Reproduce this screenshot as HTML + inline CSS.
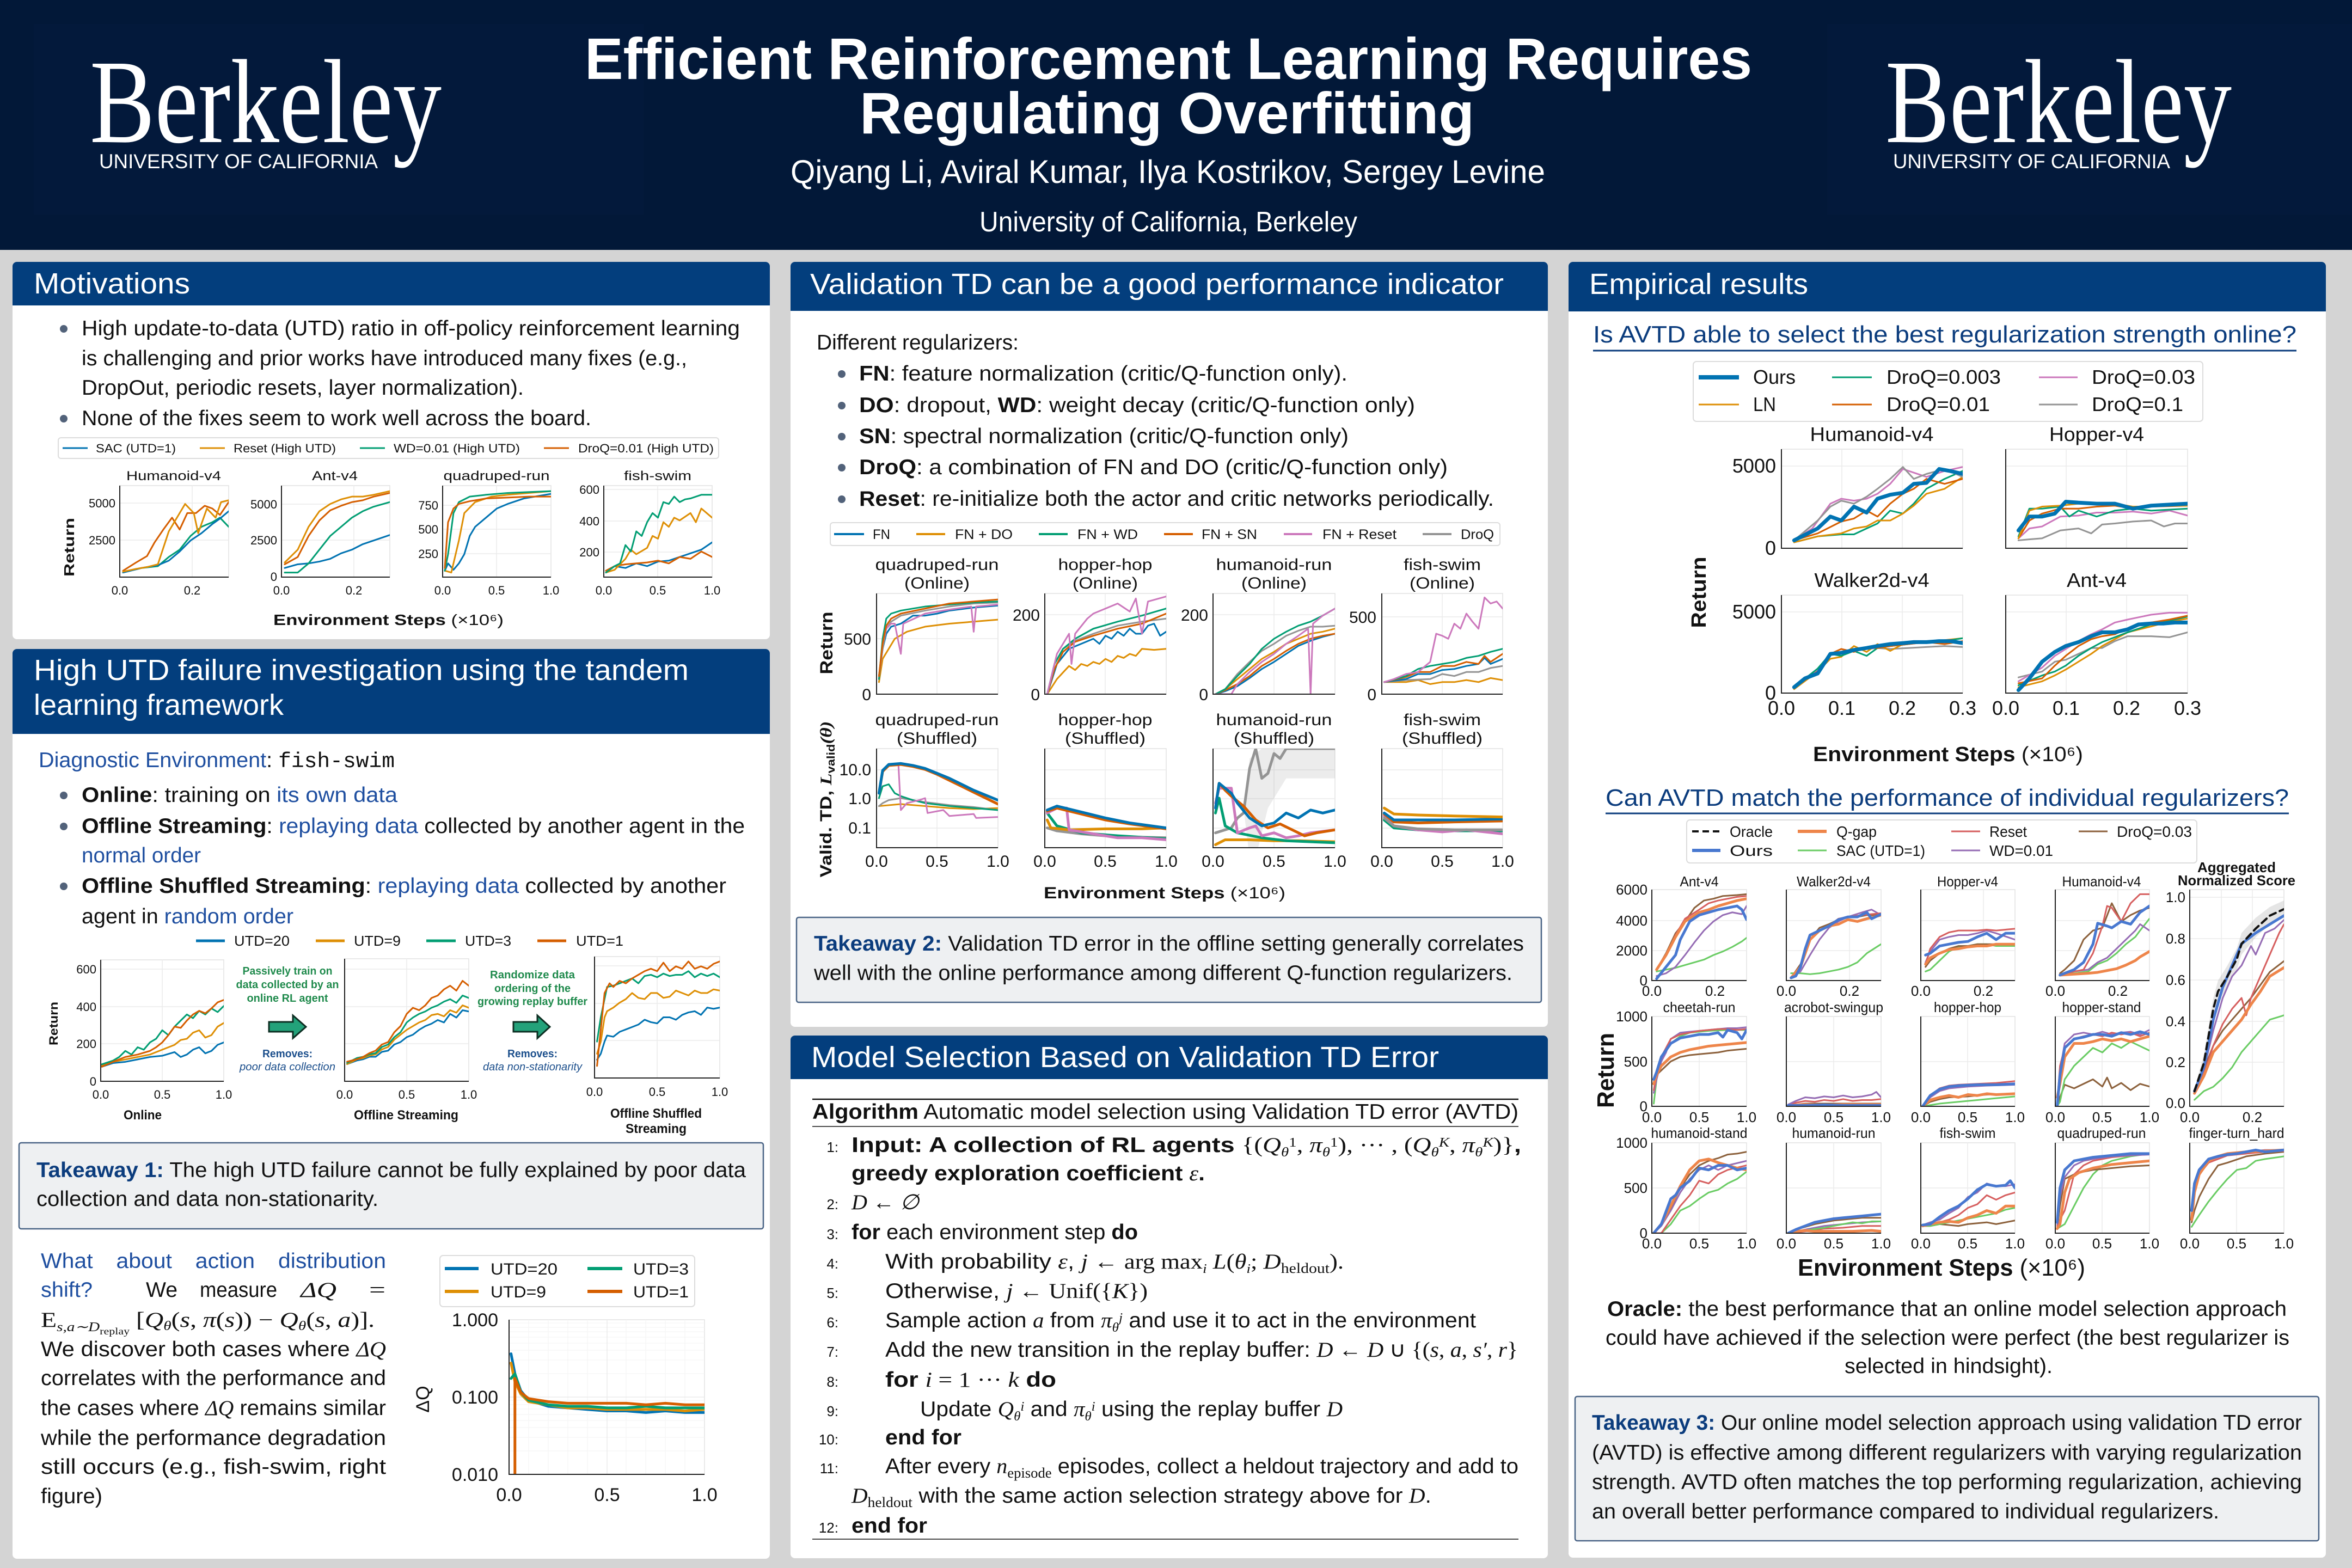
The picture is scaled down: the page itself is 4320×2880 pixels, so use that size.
<!DOCTYPE html>
<html><head><meta charset="utf-8">
<style>
html,body{margin:0;padding:0;background:#d4d4d4;}
svg{display:block}
text{font-family:"Liberation Sans",sans-serif;fill:#111;}
.sf{font-family:"Liberation Serif",serif;}
.mono{font-family:"Liberation Mono",monospace;}
.b{font-weight:bold}
.i{font-style:italic}
.bl{fill:#1f4fa0}
.db{fill:#0b3c7d}
.wh{fill:#fff}
polyline{fill:none;vector-effect:non-scaling-stroke;stroke-width:3;stroke-linejoin:round;stroke-linecap:round}
.fr{fill:#fff;stroke:#e2e2e2;stroke-width:1.5}
.gr{stroke:#ebebeb;stroke-width:1.5}
.gm{stroke:#f3f3f3;stroke-width:1}
.sp{fill:none;stroke:#222;stroke-width:2}
.tk22{font-size:22px}
.tk24{font-size:24px}
.tk26{font-size:26px}
.tk30{font-size:30px}
.tk34{font-size:34px}
.tk36{font-size:36px}
.c0{stroke:#0173b2}.c1{stroke:#de8f05}.c2{stroke:#029e73}.c3{stroke:#d55e00}.c4{stroke:#cc78bc}.c5{stroke:#ca9161}.c7{stroke:#949494}
.m0{stroke:#4878d0}.m1{stroke:#ee854a}.m2{stroke:#6acc64}.m3{stroke:#d65f5f}.m4{stroke:#956cb4}.m5{stroke:#8c613c}
.w5{stroke-width:5}.w6{stroke-width:6}.w7{stroke-width:7}
.leg{fill:#fff;stroke:#dcdcdc;stroke-width:2}
.tkb{fill:#fff;stroke:#4a6486;stroke-width:2.5}
.hd{fill:#033e7d}
.ht{fill:#fff;font-size:54px}
.bt{font-size:39px}
</style></head>
<body>
<svg width="4320" height="2880" viewBox="0 0 4320 2880" xmlns="http://www.w3.org/2000/svg">
<rect width="4320" height="2880" fill="#d4d4d4"/>
<!-- HEADER -->
<rect x="0" y="0" width="4320" height="459" fill="#021838"/>
<rect x="62" y="44" width="1120" height="350" fill="#03193b"/>
<rect x="3356" y="44" width="964" height="350" fill="#03193b"/>
<text class="sf wh" x="165" y="261" font-size="220" textLength="646" lengthAdjust="spacingAndGlyphs">Berkeley</text>
<text class="wh" x="182" y="309" font-size="37" textLength="512" lengthAdjust="spacingAndGlyphs">UNIVERSITY OF CALIFORNIA</text>
<text class="sf wh" x="3463" y="261" font-size="220" textLength="636" lengthAdjust="spacingAndGlyphs">Berkeley</text>
<text class="wh" x="3477" y="309" font-size="37" textLength="509" lengthAdjust="spacingAndGlyphs">UNIVERSITY OF CALIFORNIA</text>
<text class="wh b" x="1074" y="145" font-size="108" textLength="2144" lengthAdjust="spacingAndGlyphs">Efficient Reinforcement Learning Requires</text>
<text class="wh b" x="1579" y="245" font-size="108" textLength="1129" lengthAdjust="spacingAndGlyphs">Regulating Overfitting</text>
<text class="wh" x="1452" y="336" font-size="60" textLength="1386" lengthAdjust="spacingAndGlyphs">Qiyang Li, Aviral Kumar, Ilya Kostrikov, Sergey Levine</text>
<text class="wh" x="1799" y="425" font-size="52" textLength="694" lengthAdjust="spacingAndGlyphs">University of California, Berkeley</text>

<!-- ===== LEFT COLUMN ===== -->
<rect x="23" y="481" width="1391" height="693" rx="8" fill="#fff"/>
<rect x="23" y="481" width="1391" height="80" rx="8" class="hd"/>
<rect x="23" y="531" width="1391" height="30" class="hd"/>
<text class="ht" x="62" y="539" textLength="287" lengthAdjust="spacingAndGlyphs">Motivations</text>
<circle cx="117" cy="604" r="7" fill="#52627a"/>
<text class="bt" x="150" y="616" textLength="1209" lengthAdjust="spacingAndGlyphs">High update-to-data (UTD) ratio in off-policy reinforcement learning</text>
<text class="bt" x="150" y="671" textLength="1112" lengthAdjust="spacingAndGlyphs">is challenging and prior works have introduced many fixes (e.g.,</text>
<text class="bt" x="150" y="725" textLength="812" lengthAdjust="spacingAndGlyphs">DropOut, periodic resets, layer normalization).</text>
<circle cx="117" cy="769" r="7" fill="#52627a"/>
<text class="bt" x="150" y="781" textLength="936" lengthAdjust="spacingAndGlyphs">None of the fixes seem to work well across the board.</text>
<!-- legend -->
<rect x="107" y="804" width="1213" height="38" rx="5" class="leg"/>
<line x1="115" y1="823" x2="161" y2="823" stroke="#0173b2" stroke-width="3"/>
<text class="tk22" x="176" y="831" textLength="147" lengthAdjust="spacingAndGlyphs">SAC (UTD=1)</text>
<line x1="367" y1="823" x2="413" y2="823" stroke="#de8f05" stroke-width="3"/>
<text class="tk22" x="429" y="831" textLength="188" lengthAdjust="spacingAndGlyphs">Reset (High UTD)</text>
<line x1="661" y1="823" x2="707" y2="823" stroke="#029e73" stroke-width="3"/>
<text class="tk22" x="723" y="831" textLength="232" lengthAdjust="spacingAndGlyphs">WD=0.01 (High UTD)</text>
<line x1="999" y1="823" x2="1045" y2="823" stroke="#d55e00" stroke-width="3"/>
<text class="tk22" x="1062" y="831" textLength="249" lengthAdjust="spacingAndGlyphs">DroQ=0.01 (High UTD)</text>
<!-- motivation panels -->
<text class="tk24" x="319" y="882" text-anchor="middle" textLength="174" lengthAdjust="spacingAndGlyphs">Humanoid-v4</text>
<text class="tk24" x="615" y="882" text-anchor="middle" textLength="84" lengthAdjust="spacingAndGlyphs">Ant-v4</text>
<text class="tk24" x="912" y="882" text-anchor="middle" textLength="195" lengthAdjust="spacingAndGlyphs">quadruped-run</text>
<text class="tk24" x="1208" y="882" text-anchor="middle" textLength="124" lengthAdjust="spacingAndGlyphs">fish-swim</text>
<!-- P1 -->
<rect x="220" y="892" width="200" height="168" class="fr"/>
<line x1="220" y1="924" x2="420" y2="924" class="gr"/><line x1="220" y1="992" x2="420" y2="992" class="gr"/><line x1="353" y1="892" x2="353" y2="1060" class="gr"/>
<svg x="220" y="892" width="200" height="168" viewBox="0 0 100 100" preserveAspectRatio="none">
<polyline class="c2" points="3,95 20,90 35,88 45,78 55,70 65,55 75,45 85,40 92,35 100,45"/>
<polyline class="c0" points="3,95 20,90 35,87 45,82 55,72 65,60 75,52 85,42 92,36 100,28"/>
<polyline class="c3" points="3,93 15,84 25,77 32,62 40,48 48,35 55,48 62,30 70,30 78,22 85,25 92,32 100,18"/>
<polyline class="c1" points="3,94 15,91 25,89 35,86 45,50 55,30 60,20 68,30 72,52 80,25 88,35 93,18 100,16"/>
</svg>
<path d="M220,892 V1060 H420" class="sp"/>
<text class="tk22" x="212" y="932" text-anchor="end">5000</text><text class="tk22" x="212" y="1000" text-anchor="end">2500</text>
<text class="tk22" x="220" y="1092" text-anchor="middle">0.0</text><text class="tk22" x="353" y="1092" text-anchor="middle">0.2</text>
<!-- P2 -->
<rect x="517" y="892" width="199" height="168" class="fr"/>
<line x1="517" y1="926" x2="716" y2="926" class="gr"/><line x1="517" y1="992" x2="716" y2="992" class="gr"/><line x1="650" y1="892" x2="650" y2="1060" class="gr"/>
<svg x="517" y="892" width="199" height="168" viewBox="0 0 100 100" preserveAspectRatio="none">
<polyline class="c0" points="3,90 15,86 25,85 35,83 45,80 55,74 65,70 75,64 85,60 100,54"/>
<polyline class="c2" points="3,95 15,95 25,85 35,70 45,55 55,45 65,35 75,28 85,23 100,18"/>
<polyline class="c3" points="3,86 15,78 25,55 35,38 45,27 55,22 65,18 75,16 85,12 100,8"/>
<polyline class="c1" points="3,84 15,70 25,45 35,28 45,20 55,15 65,12 75,12 85,10 100,6"/>
</svg>
<path d="M517,892 V1060 H716" class="sp"/>
<text class="tk22" x="509" y="934" text-anchor="end">5000</text><text class="tk22" x="509" y="1000" text-anchor="end">2500</text><text class="tk22" x="509" y="1067" text-anchor="end">0</text>
<text class="tk22" x="517" y="1092" text-anchor="middle">0.0</text><text class="tk22" x="650" y="1092" text-anchor="middle">0.2</text>
<!-- P3 -->
<rect x="813" y="892" width="199" height="168" class="fr"/>
<line x1="813" y1="928" x2="1012" y2="928" class="gr"/><line x1="813" y1="972" x2="1012" y2="972" class="gr"/><line x1="813" y1="1017" x2="1012" y2="1017" class="gr"/><line x1="912" y1="892" x2="912" y2="1060" class="gr"/>
<svg x="813" y="892" width="199" height="168" viewBox="0 0 100 100" preserveAspectRatio="none">
<polyline class="c0" points="2,93 5,85 10,92 15,85 20,75 25,55 30,45 40,35 50,25 60,20 75,14 100,9"/>
<polyline class="c1" points="2,93 8,95 15,60 20,30 30,18 45,12 60,10 80,8 100,6"/>
<polyline class="c2" points="2,93 5,75 10,30 15,18 25,12 40,10 60,8 80,7 100,6"/>
<polyline class="c3" points="2,90 5,40 10,25 15,20 25,17 40,14 60,13 80,12 100,12"/>
</svg>
<path d="M813,892 V1060 H1012" class="sp"/>
<text class="tk22" x="805" y="936" text-anchor="end">750</text><text class="tk22" x="805" y="980" text-anchor="end">500</text><text class="tk22" x="805" y="1025" text-anchor="end">250</text>
<text class="tk22" x="813" y="1092" text-anchor="middle">0.0</text><text class="tk22" x="912" y="1092" text-anchor="middle">0.5</text><text class="tk22" x="1012" y="1092" text-anchor="middle">1.0</text>
<!-- P4 -->
<rect x="1109" y="892" width="199" height="168" class="fr"/>
<line x1="1109" y1="899" x2="1308" y2="899" class="gr"/><line x1="1109" y1="957" x2="1308" y2="957" class="gr"/><line x1="1109" y1="1014" x2="1308" y2="1014" class="gr"/><line x1="1208" y1="892" x2="1208" y2="1060" class="gr"/>
<svg x="1109" y="892" width="199" height="168" viewBox="0 0 100 100" preserveAspectRatio="none">
<polyline class="c0" points="2,95 10,88 20,90 30,85 40,88 50,83 60,82 70,78 80,74 90,70 100,62"/>
<polyline class="c3" points="2,93 10,88 20,86 30,85 40,84 50,82 60,85 70,78 80,80 90,72 100,78"/>
<polyline class="c1" points="2,95 10,92 20,80 25,70 30,75 40,68 45,55 50,58 55,40 60,45 65,35 70,38 80,30 85,40 90,25 100,35"/>
<polyline class="c2" points="2,95 10,88 15,85 20,65 25,72 30,50 35,55 40,40 45,30 50,35 55,18 60,20 65,12 70,18 75,15 80,14 90,10 100,10"/>
</svg>
<path d="M1109,892 V1060 H1308" class="sp"/>
<text class="tk22" x="1101" y="907" text-anchor="end">600</text><text class="tk22" x="1101" y="965" text-anchor="end">400</text><text class="tk22" x="1101" y="1022" text-anchor="end">200</text>
<text class="tk22" x="1109" y="1092" text-anchor="middle">0.0</text><text class="tk22" x="1208" y="1092" text-anchor="middle">0.5</text><text class="tk22" x="1308" y="1092" text-anchor="middle">1.0</text>
<text class="b" font-size="26" transform="translate(136,1005) rotate(-90)" text-anchor="middle" textLength="108" lengthAdjust="spacingAndGlyphs">Return</text>
<text font-size="28" x="502" y="1148" textLength="423" lengthAdjust="spacingAndGlyphs"><tspan class="b">Environment Steps</tspan> (×10⁶)</text>

<!-- L2 section -->
<rect x="23" y="1192" width="1391" height="1671" rx="8" fill="#fff"/>
<rect x="23" y="1192" width="1391" height="156" rx="8" class="hd"/>
<rect x="23" y="1300" width="1391" height="48" class="hd"/>
<text class="ht" x="62" y="1249" textLength="1203" lengthAdjust="spacingAndGlyphs">High UTD failure investigation using the tandem</text>
<text class="ht" x="62" y="1313" textLength="459" lengthAdjust="spacingAndGlyphs">learning framework</text>
<text class="bt" x="71" y="1409" textLength="654" lengthAdjust="spacingAndGlyphs"><tspan class="bl">Diagnostic Environment</tspan>: <tspan class="mono">fish-swim</tspan></text>
<circle cx="117" cy="1461" r="7" fill="#52627a"/>
<text class="bt" x="150" y="1473" textLength="580" lengthAdjust="spacingAndGlyphs"><tspan class="b">Online</tspan>: training on <tspan class="bl">its own data</tspan></text>
<circle cx="117" cy="1518" r="7" fill="#52627a"/>
<text class="bt" x="150" y="1530" textLength="1218" lengthAdjust="spacingAndGlyphs"><tspan class="b">Offline Streaming</tspan>: <tspan class="bl">replaying data</tspan> collected by another agent in the</text>
<text class="bt bl" x="150" y="1584" textLength="219" lengthAdjust="spacingAndGlyphs">normal order</text>
<circle cx="117" cy="1628" r="7" fill="#52627a"/>
<text class="bt" x="150" y="1640" textLength="1184" lengthAdjust="spacingAndGlyphs"><tspan class="b">Offline Shuffled Streaming</tspan>: <tspan class="bl">replaying data</tspan> collected by another</text>
<text class="bt" x="150" y="1696" textLength="389" lengthAdjust="spacingAndGlyphs">agent in <tspan class="bl">random order</tspan></text>
<!-- UTD legend -->
<line x1="360" y1="1728" x2="413" y2="1728" stroke="#0173b2" stroke-width="5"/>
<text font-size="26" x="430" y="1737" textLength="102" lengthAdjust="spacingAndGlyphs">UTD=20</text>
<line x1="580" y1="1728" x2="633" y2="1728" stroke="#de8f05" stroke-width="5"/>
<text font-size="26" x="650" y="1737" textLength="86" lengthAdjust="spacingAndGlyphs">UTD=9</text>
<line x1="783" y1="1728" x2="837" y2="1728" stroke="#029e73" stroke-width="5"/>
<text font-size="26" x="854" y="1737" textLength="85" lengthAdjust="spacingAndGlyphs">UTD=3</text>
<line x1="987" y1="1728" x2="1040" y2="1728" stroke="#d55e00" stroke-width="5"/>
<text font-size="26" x="1058" y="1737" textLength="87" lengthAdjust="spacingAndGlyphs">UTD=1</text>
<!-- Online plot -->
<rect x="185" y="1763" width="226" height="223" class="fr"/>
<line x1="185" y1="1780" x2="411" y2="1780" class="gr"/><line x1="185" y1="1849" x2="411" y2="1849" class="gr"/><line x1="185" y1="1917" x2="411" y2="1917" class="gr"/><line x1="298" y1="1763" x2="298" y2="1986" class="gr"/>
<svg x="185" y="1763" width="226" height="223" viewBox="0 0 100 100" preserveAspectRatio="none">
<polyline class="c0" points="1,88 10,85 20,84 30,82 40,80 50,79 60,76 65,80 70,78 75,74 80,72 85,77 90,75 95,70 100,68"/>
<polyline class="c1" points="1,87 10,84 20,82 30,80 40,78 50,74 60,70 65,66 70,65 75,60 80,58 85,64 90,62 95,55 100,52"/>
<polyline class="c2" points="1,86 10,83 15,80 20,75 25,78 30,72 35,74 40,68 45,65 50,58 55,62 60,55 65,50 70,45 75,48 80,42 85,45 90,40 95,43 100,38"/>
<polyline class="c3" points="1,88 10,84 20,80 30,78 40,75 45,72 50,68 55,62 60,55 65,56 70,50 75,45 80,42 85,44 90,40 95,35 100,33"/>
</svg>
<path d="M185,1763 V1986 H411" class="sp"/>
<text class="tk22" x="177" y="1788" text-anchor="end">600</text><text class="tk22" x="177" y="1857" text-anchor="end">400</text><text class="tk22" x="177" y="1925" text-anchor="end">200</text><text class="tk22" x="177" y="1994" text-anchor="end">0</text>
<text class="tk22" x="185" y="2018" text-anchor="middle">0.0</text><text class="tk22" x="298" y="2018" text-anchor="middle">0.5</text><text class="tk22" x="411" y="2018" text-anchor="middle">1.0</text>
<text class="b" font-size="22" transform="translate(106,1880) rotate(-90)" text-anchor="middle" textLength="80" lengthAdjust="spacingAndGlyphs">Return</text>
<text class="b" font-size="24" x="262" y="2056" text-anchor="middle" textLength="70" lengthAdjust="spacingAndGlyphs">Online</text>
<!-- annotation 1 -->
<text class="b" font-size="20" x="528" y="1790" text-anchor="middle" style="fill:#1f8a4c" textLength="165" lengthAdjust="spacingAndGlyphs">Passively train on</text>
<text class="b" font-size="20" x="528" y="1815" text-anchor="middle" style="fill:#1f8a4c" textLength="189" lengthAdjust="spacingAndGlyphs">data collected by an</text>
<text class="b" font-size="20" x="528" y="1840" text-anchor="middle" style="fill:#1f8a4c" textLength="149" lengthAdjust="spacingAndGlyphs">online RL agent</text>
<polygon points="494,1877 538,1877 538,1865 562,1886 538,1907 538,1895 494,1895" fill="#23a27a" stroke="#0d2e22" stroke-width="3"/>
<text class="b" font-size="20" x="528" y="1942" text-anchor="middle" style="fill:#1c4f8c" textLength="92" lengthAdjust="spacingAndGlyphs">Removes:</text>
<text class="i" font-size="20" x="528" y="1966" text-anchor="middle" style="fill:#1c4f8c" textLength="176" lengthAdjust="spacingAndGlyphs">poor data collection</text>
<!-- Offline streaming plot -->
<rect x="633" y="1761" width="228" height="225" class="fr"/>
<line x1="633" y1="1780" x2="861" y2="1780" class="gr"/><line x1="633" y1="1849" x2="861" y2="1849" class="gr"/><line x1="633" y1="1917" x2="861" y2="1917" class="gr"/><line x1="747" y1="1761" x2="747" y2="1986" class="gr"/>
<svg x="633" y="1761" width="228" height="225" viewBox="0 0 100 100" preserveAspectRatio="none">
<polyline class="c0" points="2,86 10,83 15,82 20,80 25,80 30,76 35,75 40,70 45,68 50,64 55,62 60,58 65,55 70,53 75,50 80,52 85,45 90,48 95,42 100,43"/>
<polyline class="c1" points="2,86 10,82 15,81 20,79 25,78 30,74 35,72 40,66 45,62 50,58 55,55 60,52 65,50 70,46 75,45 80,47 85,42 90,44 95,38 100,40"/>
<polyline class="c2" points="2,85 10,81 15,80 20,78 25,77 30,72 35,70 40,64 45,60 50,52 55,48 60,45 65,43 70,40 75,38 80,35 85,33 90,36 95,30 100,32"/>
<polyline class="c3" points="2,84 10,82 15,80 20,77 25,75 30,70 35,68 40,60 45,55 50,45 55,40 60,42 65,38 70,32 75,30 80,25 85,22 90,26 95,18 100,22"/>
</svg>
<path d="M633,1761 V1986 H861" class="sp"/>
<text class="tk22" x="633" y="2018" text-anchor="middle">0.0</text><text class="tk22" x="747" y="2018" text-anchor="middle">0.5</text><text class="tk22" x="861" y="2018" text-anchor="middle">1.0</text>
<text class="b" font-size="24" x="746" y="2056" text-anchor="middle" textLength="192" lengthAdjust="spacingAndGlyphs">Offline Streaming</text>
<!-- annotation 2 -->
<text class="b" font-size="20" x="978" y="1797" text-anchor="middle" style="fill:#1f8a4c" textLength="156" lengthAdjust="spacingAndGlyphs">Randomize data</text>
<text class="b" font-size="20" x="978" y="1822" text-anchor="middle" style="fill:#1f8a4c" textLength="140" lengthAdjust="spacingAndGlyphs">ordering of the</text>
<text class="b" font-size="20" x="978" y="1846" text-anchor="middle" style="fill:#1f8a4c" textLength="202" lengthAdjust="spacingAndGlyphs">growing replay buffer</text>
<polygon points="943,1877 987,1877 987,1865 1010,1886 987,1907 987,1895 943,1895" fill="#23a27a" stroke="#0d2e22" stroke-width="3"/>
<text class="b" font-size="20" x="978" y="1942" text-anchor="middle" style="fill:#1c4f8c" textLength="92" lengthAdjust="spacingAndGlyphs">Removes:</text>
<text class="i" font-size="20" x="978" y="1966" text-anchor="middle" style="fill:#1c4f8c" textLength="182" lengthAdjust="spacingAndGlyphs">data non-stationarity</text>
<!-- Offline shuffled plot -->
<rect x="1092" y="1757" width="230" height="223" class="fr"/>
<line x1="1092" y1="1774" x2="1322" y2="1774" class="gr"/><line x1="1092" y1="1843" x2="1322" y2="1843" class="gr"/><line x1="1092" y1="1911" x2="1322" y2="1911" class="gr"/><line x1="1207" y1="1757" x2="1207" y2="1980" class="gr"/>
<svg x="1092" y="1757" width="230" height="223" viewBox="0 0 100 100" preserveAspectRatio="none">
<polyline class="c0" points="2,85 5,80 8,70 10,65 15,66 20,62 25,60 30,58 35,56 40,52 45,54 50,55 55,50 60,50 65,52 70,48 75,46 80,45 85,48 90,42 95,43 100,42"/>
<polyline class="c1" points="2,80 5,70 8,50 10,45 15,42 20,38 25,35 30,30 35,34 40,35 45,30 50,30 55,34 60,33 65,28 70,30 75,32 80,28 85,30 90,30 95,27 100,28"/>
<polyline class="c2" points="2,70 5,50 10,25 15,24 20,22 25,20 30,18 35,22 40,16 45,15 50,17 55,14 60,16 65,15 70,15 75,12 80,17 85,14 90,16 95,14 100,17"/>
<polyline class="c3" points="2,90 5,60 8,30 12,22 15,25 20,20 25,22 30,18 35,15 40,12 45,10 50,12 55,5 60,12 65,8 70,10 75,4 80,10 85,8 90,10 95,6 100,4"/>
</svg>
<path d="M1092,1757 V1980 H1322" class="sp"/>
<text class="tk22" x="1092" y="2013" text-anchor="middle">0.0</text><text class="tk22" x="1207" y="2013" text-anchor="middle">0.5</text><text class="tk22" x="1322" y="2013" text-anchor="middle">1.0</text>
<text class="b" font-size="24" x="1205" y="2053" text-anchor="middle" textLength="168" lengthAdjust="spacingAndGlyphs">Offline Shuffled</text>
<text class="b" font-size="24" x="1205" y="2081" text-anchor="middle" textLength="112" lengthAdjust="spacingAndGlyphs">Streaming</text>
<!-- Takeaway 1 -->
<rect x="35" y="2099" width="1367" height="158" rx="4" fill="#eef0f2" stroke="#4a6486" stroke-width="2.5"/>
<text class="bt" x="67" y="2162" textLength="1303" lengthAdjust="spacingAndGlyphs"><tspan class="b db">Takeaway 1:</tspan> The high UTD failure cannot be fully explained by poor data</text>
<text class="bt" x="67" y="2215" textLength="628" lengthAdjust="spacingAndGlyphs">collection and data non-stationarity.</text>
<!-- bottom-left paragraph -->
<text class="bt bl" x="75" y="2329" textLength="634" lengthAdjust="spacingAndGlyphs" word-spacing="30">What about action distribution</text>
<text class="bt bl" x="75" y="2382" textLength="95" lengthAdjust="spacingAndGlyphs">shift?</text>
<text class="bt" x="268" y="2382" textLength="58" lengthAdjust="spacingAndGlyphs">We</text>
<text class="bt" x="367" y="2382" textLength="142" lengthAdjust="spacingAndGlyphs">measure</text>
<text class="bt sf i" x="552" y="2382" textLength="66" lengthAdjust="spacingAndGlyphs">ΔQ</text>
<text class="bt sf" x="678" y="2382" textLength="30" lengthAdjust="spacingAndGlyphs">=</text>
<text class="bt sf" x="75" y="2437" textLength="613" lengthAdjust="spacingAndGlyphs">E<tspan font-size="24" class="i" dy="8">s,a∼D</tspan><tspan font-size="18" dy="6">replay</tspan><tspan dy="-14"> [</tspan><tspan class="i">Q</tspan><tspan font-size="24" class="i" dy="6">θ</tspan><tspan dy="-6">(</tspan><tspan class="i">s</tspan>, <tspan class="i">π</tspan>(<tspan class="i">s</tspan>)) − <tspan class="i">Q</tspan><tspan font-size="24" class="i" dy="6">θ</tspan><tspan dy="-6">(</tspan><tspan class="i">s</tspan>, <tspan class="i">a</tspan>)].</text>
<text class="bt" x="75" y="2491" textLength="634" lengthAdjust="spacingAndGlyphs">We discover both cases where <tspan class="sf i">ΔQ</tspan></text>
<text class="bt" x="75" y="2544" textLength="634" lengthAdjust="spacingAndGlyphs">correlates with the performance and</text>
<text class="bt" x="75" y="2599" textLength="634" lengthAdjust="spacingAndGlyphs">the cases where <tspan class="sf i">ΔQ</tspan> remains similar</text>
<text class="bt" x="75" y="2654" textLength="634" lengthAdjust="spacingAndGlyphs">while the performance degradation</text>
<text class="bt" x="75" y="2707" textLength="634" lengthAdjust="spacingAndGlyphs">still occurs (e.g., fish-swim, right</text>
<text class="bt" x="75" y="2761" textLength="113" lengthAdjust="spacingAndGlyphs">figure)</text>
<!-- ΔQ plot -->
<rect x="808" y="2306" width="468" height="94" rx="6" class="leg"/>
<line x1="817" y1="2330" x2="879" y2="2330" stroke="#0173b2" stroke-width="6"/>
<text font-size="30" x="901" y="2341" textLength="123" lengthAdjust="spacingAndGlyphs">UTD=20</text>
<line x1="1079" y1="2330" x2="1143" y2="2330" stroke="#029e73" stroke-width="6"/>
<text font-size="30" x="1163" y="2341" textLength="102" lengthAdjust="spacingAndGlyphs">UTD=3</text>
<line x1="817" y1="2372" x2="879" y2="2372" stroke="#de8f05" stroke-width="6"/>
<text font-size="30" x="901" y="2383" textLength="102" lengthAdjust="spacingAndGlyphs">UTD=9</text>
<line x1="1079" y1="2372" x2="1143" y2="2372" stroke="#d55e00" stroke-width="6"/>
<text font-size="30" x="1163" y="2383" textLength="102" lengthAdjust="spacingAndGlyphs">UTD=1</text>
<rect x="935" y="2424" width="359" height="284" class="fr"/>
<g class="gm">
<line x1="935" y1="2430" x2="1294" y2="2430"/><line x1="935" y1="2438" x2="1294" y2="2438"/><line x1="935" y1="2446" x2="1294" y2="2446"/><line x1="935" y1="2456" x2="1294" y2="2456"/><line x1="935" y1="2467" x2="1294" y2="2467"/><line x1="935" y1="2480" x2="1294" y2="2480"/><line x1="935" y1="2498" x2="1294" y2="2498"/><line x1="935" y1="2523" x2="1294" y2="2523"/>
<line x1="935" y1="2572" x2="1294" y2="2572"/><line x1="935" y1="2580" x2="1294" y2="2580"/><line x1="935" y1="2588" x2="1294" y2="2588"/><line x1="935" y1="2598" x2="1294" y2="2598"/><line x1="935" y1="2609" x2="1294" y2="2609"/><line x1="935" y1="2622" x2="1294" y2="2622"/><line x1="935" y1="2640" x2="1294" y2="2640"/><line x1="935" y1="2665" x2="1294" y2="2665"/>
<line x1="971" y1="2424" x2="971" y2="2708"/><line x1="1007" y1="2424" x2="1007" y2="2708"/><line x1="1043" y1="2424" x2="1043" y2="2708"/><line x1="1079" y1="2424" x2="1079" y2="2708"/><line x1="1150" y1="2424" x2="1150" y2="2708"/><line x1="1186" y1="2424" x2="1186" y2="2708"/><line x1="1222" y1="2424" x2="1222" y2="2708"/><line x1="1258" y1="2424" x2="1258" y2="2708"/>
</g>
<line x1="935" y1="2566" x2="1294" y2="2566" class="gr"/><line x1="1115" y1="2424" x2="1115" y2="2708" class="gr"/>
<svg x="935" y="2424" width="359" height="284" viewBox="0 0 100 100" preserveAspectRatio="none">
<polyline class="c0 w5" points="1,22 3,35 6,46 10,52 15,54 20,56 30,57 40,58 50,59 60,59 70,60 80,59 90,60 100,60"/>
<polyline class="c1 w5" points="1,28 3,40 6,48 10,53 20,55 30,57 40,57 50,58 60,58 70,58 80,58 90,59 100,58"/>
<polyline class="c2 w5" points="1,38 3,35 6,47 10,52 20,55 30,56 40,56 50,57 60,57 70,56 80,57 90,57 100,57"/>
<polyline class="c3 w5" points="3,100 3,38 6,47 10,51 20,53 30,54 40,54 50,54 60,54 70,55 80,54 90,55 100,55"/>
</svg>
<path d="M935,2424 V2708 H1294" class="sp"/>
<text class="tk34" x="915" y="2436" text-anchor="end">1.000</text><text class="tk34" x="915" y="2578" text-anchor="end">0.100</text><text class="tk34" x="915" y="2720" text-anchor="end">0.010</text>
<text class="tk34" x="935" y="2757" text-anchor="middle">0.0</text><text class="tk34" x="1115" y="2757" text-anchor="middle">0.5</text><text class="tk34" x="1294" y="2757" text-anchor="middle">1.0</text>
<text class="tk34" transform="translate(788,2570) rotate(-90)" text-anchor="middle">ΔQ</text>

<!-- ===== MIDDLE COLUMN ===== -->
<rect x="1452" y="481" width="1391" height="1405" rx="8" fill="#fff"/>
<rect x="1452" y="481" width="1391" height="90" rx="8" class="hd"/>
<rect x="1452" y="531" width="1391" height="40" class="hd"/>
<text class="ht" x="1488" y="540" textLength="1274" lengthAdjust="spacingAndGlyphs">Validation TD can be a good performance indicator</text>
<text class="bt" x="1500" y="642" textLength="371" lengthAdjust="spacingAndGlyphs">Different regularizers:</text>
<circle cx="1546" cy="687" r="7" fill="#52627a"/>
<text class="bt" x="1578" y="699" textLength="897" lengthAdjust="spacingAndGlyphs"><tspan class="b">FN</tspan>: feature normalization (critic/Q-function only).</text>
<circle cx="1546" cy="745" r="7" fill="#52627a"/>
<text class="bt" x="1578" y="757" textLength="1021" lengthAdjust="spacingAndGlyphs"><tspan class="b">DO</tspan>: dropout, <tspan class="b">WD</tspan>: weight decay (critic/Q-function only)</text>
<circle cx="1546" cy="802" r="7" fill="#52627a"/>
<text class="bt" x="1578" y="814" textLength="899" lengthAdjust="spacingAndGlyphs"><tspan class="b">SN</tspan>: spectral normalization (critic/Q-function only)</text>
<circle cx="1546" cy="859" r="7" fill="#52627a"/>
<text class="bt" x="1578" y="871" textLength="1081" lengthAdjust="spacingAndGlyphs"><tspan class="b">DroQ</tspan>: a combination of FN and DO (critic/Q-function only)</text>
<circle cx="1546" cy="917" r="7" fill="#52627a"/>
<text class="bt" x="1578" y="929" textLength="1166" lengthAdjust="spacingAndGlyphs"><tspan class="b">Reset</tspan>:  re-initialize both the actor and critic networks periodically.</text>
<!-- legend -->
<rect x="1525" y="960" width="1230" height="42" rx="5" class="leg"/>
<line x1="1532" y1="981" x2="1587" y2="981" stroke="#0173b2" stroke-width="4"/>
<text font-size="25" x="1603" y="990" textLength="32" lengthAdjust="spacingAndGlyphs">FN</text>
<line x1="1683" y1="981" x2="1736" y2="981" stroke="#de8f05" stroke-width="4"/>
<text font-size="25" x="1754" y="990" textLength="106" lengthAdjust="spacingAndGlyphs">FN + DO</text>
<line x1="1908" y1="981" x2="1961" y2="981" stroke="#029e73" stroke-width="4"/>
<text font-size="25" x="1979" y="990" textLength="111" lengthAdjust="spacingAndGlyphs">FN + WD</text>
<line x1="2138" y1="981" x2="2191" y2="981" stroke="#d55e00" stroke-width="4"/>
<text font-size="25" x="2207" y="990" textLength="102" lengthAdjust="spacingAndGlyphs">FN + SN</text>
<line x1="2358" y1="981" x2="2410" y2="981" stroke="#cc78bc" stroke-width="4"/>
<text font-size="25" x="2429" y="990" textLength="136" lengthAdjust="spacingAndGlyphs">FN + Reset</text>
<line x1="2613" y1="981" x2="2666" y2="981" stroke="#949494" stroke-width="4"/>
<text font-size="25" x="2683" y="990" textLength="61" lengthAdjust="spacingAndGlyphs">DroQ</text>
<!-- titles row 1 -->
<g class="tk30">
<text x="1721" y="1047" text-anchor="middle" textLength="227" lengthAdjust="spacingAndGlyphs">quadruped-run</text>
<text x="1721" y="1081" text-anchor="middle" textLength="120" lengthAdjust="spacingAndGlyphs">(Online)</text>
<text x="2030" y="1047" text-anchor="middle" textLength="173" lengthAdjust="spacingAndGlyphs">hopper-hop</text>
<text x="2030" y="1081" text-anchor="middle" textLength="120" lengthAdjust="spacingAndGlyphs">(Online)</text>
<text x="2340" y="1047" text-anchor="middle" textLength="213" lengthAdjust="spacingAndGlyphs">humanoid-run</text>
<text x="2340" y="1081" text-anchor="middle" textLength="120" lengthAdjust="spacingAndGlyphs">(Online)</text>
<text x="2649" y="1047" text-anchor="middle" textLength="142" lengthAdjust="spacingAndGlyphs">fish-swim</text>
<text x="2649" y="1081" text-anchor="middle" textLength="120" lengthAdjust="spacingAndGlyphs">(Online)</text>
<text x="1721" y="1332" text-anchor="middle" textLength="227" lengthAdjust="spacingAndGlyphs">quadruped-run</text>
<text x="1721" y="1366" text-anchor="middle" textLength="148" lengthAdjust="spacingAndGlyphs">(Shuffled)</text>
<text x="2030" y="1332" text-anchor="middle" textLength="173" lengthAdjust="spacingAndGlyphs">hopper-hop</text>
<text x="2030" y="1366" text-anchor="middle" textLength="148" lengthAdjust="spacingAndGlyphs">(Shuffled)</text>
<text x="2340" y="1332" text-anchor="middle" textLength="213" lengthAdjust="spacingAndGlyphs">humanoid-run</text>
<text x="2340" y="1366" text-anchor="middle" textLength="148" lengthAdjust="spacingAndGlyphs">(Shuffled)</text>
<text x="2649" y="1332" text-anchor="middle" textLength="142" lengthAdjust="spacingAndGlyphs">fish-swim</text>
<text x="2649" y="1366" text-anchor="middle" textLength="148" lengthAdjust="spacingAndGlyphs">(Shuffled)</text>
</g>
<!-- M P1 online -->
<rect x="1610" y="1090" width="223" height="185" class="fr"/>
<line x1="1610" y1="1173" x2="1833" y2="1173" class="gr"/><line x1="1721" y1="1090" x2="1721" y2="1275" class="gr"/>
<svg x="1610" y="1090" width="223" height="185" viewBox="0 0 100 100" preserveAspectRatio="none">
<polyline class="c1" points="2,88 5,65 10,55 15,45 25,38 40,33 60,30 80,28 100,26"/>
<polyline class="c0" points="2,82 5,55 8,40 12,33 20,30 30,22 40,22 50,20 60,17 80,14 100,12"/>
<polyline class="c7" points="2,82 5,55 8,35 12,28 20,22 40,17 60,13 80,10 100,9"/>
<polyline class="c4" points="2,85 5,50 8,35 12,30 15,30 20,60 22,30 40,20 60,16 78,13 80,38 82,13 100,11"/>
<polyline class="c2" points="2,85 5,45 8,25 12,20 20,17 40,13 60,11 80,9 100,8"/>
<polyline class="c3" points="2,82 5,50 8,32 12,25 20,20 40,15 60,10 80,8 100,6"/>
</svg>
<path d="M1610,1090 V1275 H1833" class="sp"/>
<text class="tk30" x="1600" y="1184" text-anchor="end">500</text><text class="tk30" x="1600" y="1286" text-anchor="end">0</text>
<!-- M P2 online -->
<rect x="1919" y="1090" width="223" height="185" class="fr"/>
<line x1="1919" y1="1129" x2="2142" y2="1129" class="gr"/><line x1="2030" y1="1090" x2="2030" y2="1275" class="gr"/>
<svg x="1919" y="1090" width="223" height="185" viewBox="0 0 100 100" preserveAspectRatio="none">
<polyline class="c1" points="2,100 10,85 20,72 25,76 30,70 35,72 40,68 45,70 50,65 55,68 60,62 65,64 70,60 75,62 80,55 90,56 100,55"/>
<polyline class="c0" points="2,100 10,70 20,55 30,50 40,45 45,50 50,42 55,45 60,38 65,42 70,35 75,40 80,40 85,32 90,30 95,42 100,38"/>
<polyline class="c7" points="2,100 8,70 15,55 25,47 40,40 60,32 80,28 100,25"/>
<polyline class="c3" points="2,100 8,75 15,58 25,48 40,42 60,35 80,30 100,20"/>
<polyline class="c2" points="2,100 8,70 15,55 25,45 40,35 60,28 80,22 100,15"/>
<polyline class="c4" points="2,100 10,60 20,40 22,70 25,40 35,25 40,20 50,15 60,10 70,18 75,5 80,40 85,8 100,3"/>
</svg>
<path d="M1919,1090 V1275 H2142" class="sp"/>
<text class="tk30" x="1910" y="1140" text-anchor="end">200</text><text class="tk30" x="1910" y="1286" text-anchor="end">0</text>
<!-- M P3 online -->
<rect x="2228" y="1090" width="224" height="185" class="fr"/>
<line x1="2228" y1="1129" x2="2452" y2="1129" class="gr"/><line x1="2340" y1="1090" x2="2340" y2="1275" class="gr"/>
<svg x="2228" y="1090" width="224" height="185" viewBox="0 0 100 100" preserveAspectRatio="none">
<polyline class="c0" points="2,100 10,97 20,92 30,84 40,75 50,68 60,60 70,52 80,47 90,43 100,40"/>
<polyline class="c3" points="2,100 10,96 20,90 30,82 40,72 50,65 60,57 70,50 80,45 90,42 100,40"/>
<polyline class="c1" points="2,100 10,95 20,85 30,75 40,65 50,58 60,50 70,45 80,40 90,38 100,35"/>
<polyline class="c7" points="2,100 10,95 20,80 30,68 40,57 50,50 60,42 70,37 80,33 90,33 100,32"/>
<polyline class="c2" points="2,100 10,95 20,82 30,70 40,55 50,45 60,38 70,32 80,28 90,22 100,15"/>
<polyline class="c4" points="2,100 15,100 20,90 30,78 40,68 50,60 60,50 70,42 78,35 80,100 82,30 90,22 100,15"/>
</svg>
<path d="M2228,1090 V1275 H2452" class="sp"/>
<text class="tk30" x="2219" y="1140" text-anchor="end">200</text><text class="tk30" x="2219" y="1286" text-anchor="end">0</text>
<!-- M P4 online -->
<rect x="2538" y="1090" width="222" height="185" class="fr"/>
<line x1="2538" y1="1133" x2="2760" y2="1133" class="gr"/><line x1="2649" y1="1090" x2="2649" y2="1275" class="gr"/>
<svg x="2538" y="1090" width="222" height="185" viewBox="0 0 100 100" preserveAspectRatio="none">
<polyline class="c1" points="2,88 20,88 30,86 40,90 50,88 60,88 70,86 80,88 90,84 100,86"/>
<polyline class="c7" points="2,88 20,86 40,85 50,80 60,82 70,78 80,78 90,74 100,72"/>
<polyline class="c0" points="2,88 20,85 30,80 40,80 50,76 60,75 70,72 80,70 85,64 90,70 100,65"/>
<polyline class="c3" points="2,88 20,83 30,78 40,78 50,72 60,72 70,68 80,70 85,62 90,68 100,60"/>
<polyline class="c2" points="2,88 20,82 30,75 40,72 50,70 60,68 70,64 80,62 90,58 100,55"/>
<polyline class="c4" points="2,88 10,85 20,80 30,78 40,68 45,40 50,42 55,45 60,30 65,35 70,20 75,28 80,35 85,4 90,10 95,8 100,15"/>
</svg>
<path d="M2538,1090 V1275 H2760" class="sp"/>
<text class="tk30" x="2528" y="1144" text-anchor="end">500</text><text class="tk30" x="2528" y="1286" text-anchor="end">0</text>
<!-- M row 2 shuffled -->
<rect x="1610" y="1375" width="223" height="182" class="fr"/>
<line x1="1610" y1="1414" x2="1833" y2="1414" class="gr"/><line x1="1610" y1="1467" x2="1833" y2="1467" class="gr"/><line x1="1610" y1="1521" x2="1833" y2="1521" class="gr"/><line x1="1721" y1="1375" x2="1721" y2="1557" class="gr"/>
<svg x="1610" y="1375" width="223" height="182" viewBox="0 0 100 100" preserveAspectRatio="none">
<polyline class="c1" points="2,58 20,56 40,58 60,60 80,61 100,60"/>
<polyline class="c7" points="2,58 5,55 10,52 20,50 30,52 40,54 60,57 80,59 100,62"/>
<polyline class="c2" points="2,50 5,38 10,36 15,45 20,48 30,52 40,55 60,58 80,60 100,62"/>
<polyline class="c4" points="2,45 5,22 10,17 18,16 20,62 25,55 35,52 40,50 42,65 55,62 60,68 80,66 82,70 100,69"/>
<polyline class="c3 w5" points="2,45 5,23 10,17 20,16 30,18 40,21 50,26 60,32 70,38 80,44 90,50 100,56"/>
<polyline class="c0 w5" points="2,45 5,22 10,16 20,15 30,17 40,20 50,25 60,30 70,36 80,42 90,47 100,52"/>
</svg>
<path d="M1610,1375 V1557 H1833" class="sp"/>
<text class="tk30" x="1600" y="1424" text-anchor="end">10.0</text><text class="tk30" x="1600" y="1477" text-anchor="end">1.0</text><text class="tk30" x="1600" y="1531" text-anchor="end">0.1</text>
<rect x="1919" y="1375" width="223" height="182" class="fr"/>
<line x1="1919" y1="1414" x2="2142" y2="1414" class="gr"/><line x1="1919" y1="1467" x2="2142" y2="1467" class="gr"/><line x1="1919" y1="1521" x2="2142" y2="1521" class="gr"/><line x1="2030" y1="1375" x2="2030" y2="1557" class="gr"/>
<svg x="1919" y="1375" width="223" height="182" viewBox="0 0 100 100" preserveAspectRatio="none">
<polyline class="c7 w5" points="2,80 10,83 30,86 60,89 100,90"/>
<polyline class="c2 w5" points="2,65 10,78 30,85 60,88 100,91"/>
<polyline class="c1 w5" points="2,72 5,80 20,82 50,81 80,81 100,80"/>
<polyline class="c4 w5" points="2,65 10,60 18,60 20,82 40,86 60,90 80,90 100,92"/>
<polyline class="c3 w5" points="2,63 10,60 30,66 50,72 70,76 100,81"/>
<polyline class="c0 w5" points="2,62 10,58 30,64 50,70 70,75 100,80"/>
</svg>
<path d="M1919,1375 V1557 H2142" class="sp"/>
<rect x="2228" y="1375" width="224" height="182" class="fr"/>
<line x1="2228" y1="1414" x2="2452" y2="1414" class="gr"/><line x1="2228" y1="1467" x2="2452" y2="1467" class="gr"/><line x1="2228" y1="1521" x2="2452" y2="1521" class="gr"/><line x1="2340" y1="1375" x2="2340" y2="1557" class="gr"/>
<svg x="2228" y="1375" width="224" height="182" viewBox="0 0 100 100" preserveAspectRatio="none">
<polygon points="25,60 30,10 40,0 100,0 100,30 60,30 45,60 35,110 30,110" fill="#949494" fill-opacity="0.18"/>
<polyline class="c7 w5" points="2,85 15,80 20,70 25,65 30,20 35,0 40,30 45,25 50,5 55,10 60,0 100,0"/>
<polyline class="c1 w5" points="2,97 10,92 30,92 50,93 70,93 100,94"/>
<polyline class="c2 w5" points="2,65 5,50 10,78 20,85 40,90 60,93 100,95"/>
<polyline class="c4 w5" points="2,55 5,40 15,40 20,85 30,80 35,78 40,88 50,85 60,90 70,88 80,85 100,82"/>
<polyline class="c3 w5" points="2,60 5,35 10,42 15,48 25,58 35,72 45,80 55,76 65,82 75,88 85,85 100,82"/>
<polyline class="c0 w5" points="2,60 5,35 10,40 15,45 20,55 30,70 40,78 50,75 60,65 70,70 80,62 90,65 100,62"/>
</svg>
<path d="M2228,1375 V1557 H2452" class="sp"/>
<rect x="2538" y="1375" width="222" height="182" class="fr"/>
<line x1="2538" y1="1414" x2="2760" y2="1414" class="gr"/><line x1="2538" y1="1467" x2="2760" y2="1467" class="gr"/><line x1="2538" y1="1521" x2="2760" y2="1521" class="gr"/><line x1="2649" y1="1375" x2="2649" y2="1557" class="gr"/>
<svg x="2538" y="1375" width="222" height="182" viewBox="0 0 100 100" preserveAspectRatio="none">
<polyline class="c2 w5" points="2,72 10,80 30,82 60,83 100,83"/>
<polyline class="c4 w5" points="2,68 10,78 30,82 50,84 70,82 100,86"/>
<polyline class="c7 w5" points="2,70 10,78 30,81 60,82 100,82"/>
<polyline class="c3 w5" points="2,66 10,74 30,75 60,74 100,73"/>
<polyline class="c0 w5" points="2,65 10,72 30,72 60,72 100,71"/>
<polyline class="c1 w5" points="2,60 10,66 30,67 60,68 100,69"/>
</svg>
<path d="M2538,1375 V1557 H2760" class="sp"/>
<g class="tk30">
<text x="1610" y="1592" text-anchor="middle">0.0</text><text x="1721" y="1592" text-anchor="middle">0.5</text><text x="1833" y="1592" text-anchor="middle">1.0</text>
<text x="1919" y="1592" text-anchor="middle">0.0</text><text x="2030" y="1592" text-anchor="middle">0.5</text><text x="2142" y="1592" text-anchor="middle">1.0</text>
<text x="2228" y="1592" text-anchor="middle">0.0</text><text x="2340" y="1592" text-anchor="middle">0.5</text><text x="2452" y="1592" text-anchor="middle">1.0</text>
<text x="2538" y="1592" text-anchor="middle">0.0</text><text x="2649" y="1592" text-anchor="middle">0.5</text><text x="2760" y="1592" text-anchor="middle">1.0</text>
</g>
<text class="b" font-size="32" transform="translate(1529,1181) rotate(-90)" text-anchor="middle" textLength="115" lengthAdjust="spacingAndGlyphs">Return</text>
<text class="b" font-size="30" transform="translate(1527,1468) rotate(-90)" text-anchor="middle" textLength="287" lengthAdjust="spacingAndGlyphs">Valid. TD, <tspan class="i sf">L</tspan><tspan font-size="20" dy="6">valid</tspan><tspan class="sf i" dy="-6">(θ)</tspan></text>
<text font-size="30" x="1917" y="1650" textLength="444" lengthAdjust="spacingAndGlyphs"><tspan class="b">Environment Steps</tspan> (×10⁶)</text>
<!-- Takeaway 2 -->
<rect x="1463" y="1685" width="1368" height="156" rx="4" fill="#eef0f2" stroke="#4a6486" stroke-width="2.5"/>
<text class="bt" x="1495" y="1746" textLength="1304" lengthAdjust="spacingAndGlyphs"><tspan class="b db">Takeaway 2:</tspan> Validation TD error in the offline setting generally correlates</text>
<text class="bt" x="1495" y="1800" textLength="1283" lengthAdjust="spacingAndGlyphs">well with the online performance among different Q-function regularizers.</text>

<!-- Model Selection -->
<rect x="1452" y="1902" width="1391" height="960" rx="8" fill="#fff"/>
<rect x="1452" y="1902" width="1391" height="80" rx="8" class="hd"/>
<rect x="1452" y="1950" width="1391" height="32" class="hd"/>
<text class="ht" x="1490" y="1960" textLength="1153" lengthAdjust="spacingAndGlyphs">Model Selection Based on Validation TD Error</text>
<line x1="1492" y1="2019" x2="2789" y2="2019" stroke="#111" stroke-width="2.5"/>
<line x1="1492" y1="2069" x2="2789" y2="2069" stroke="#111" stroke-width="1.5"/>
<line x1="1492" y1="2827" x2="2789" y2="2827" stroke="#111" stroke-width="1.5"/>
<text class="bt" x="1492" y="2055" textLength="1297" lengthAdjust="spacingAndGlyphs"><tspan class="b">Algorithm</tspan> Automatic model selection using Validation TD error (AVTD)</text>
<g font-size="26">
<text x="1540" y="2116" text-anchor="end">1:</text><text x="1540" y="2221" text-anchor="end">2:</text><text x="1540" y="2276" text-anchor="end">3:</text><text x="1540" y="2330" text-anchor="end">4:</text><text x="1540" y="2384" text-anchor="end">5:</text><text x="1540" y="2438" text-anchor="end">6:</text><text x="1540" y="2492" text-anchor="end">7:</text><text x="1540" y="2547" text-anchor="end">8:</text><text x="1540" y="2601" text-anchor="end">9:</text><text x="1540" y="2653" text-anchor="end">10:</text><text x="1540" y="2706" text-anchor="end">11:</text><text x="1540" y="2815" text-anchor="end">12:</text>
</g>
<text class="bt" x="1564" y="2116" textLength="1230" lengthAdjust="spacingAndGlyphs"><tspan class="b">Input:  A collection of RL agents </tspan><tspan class="sf">{(</tspan><tspan class="sf i">Q</tspan><tspan class="sf i" font-size="24" dy="8">θ</tspan><tspan class="sf" font-size="24" dy="-18">1</tspan><tspan class="sf" dy="10">, </tspan><tspan class="sf i">π</tspan><tspan class="sf i" font-size="24" dy="8">θ</tspan><tspan class="sf" font-size="24" dy="-18">1</tspan><tspan class="sf" dy="10">), ··· , (</tspan><tspan class="sf i">Q</tspan><tspan class="sf i" font-size="24" dy="8">θ</tspan><tspan class="sf i" font-size="24" dy="-18">K</tspan><tspan class="sf" dy="10">, </tspan><tspan class="sf i">π</tspan><tspan class="sf i" font-size="24" dy="8">θ</tspan><tspan class="sf i" font-size="24" dy="-18">K</tspan><tspan class="sf" dy="10">)}</tspan><tspan class="b">,</tspan></text>
<text class="bt" x="1564" y="2168" textLength="649" lengthAdjust="spacingAndGlyphs"><tspan class="b">greedy exploration coefficient </tspan><tspan class="sf i">ε</tspan><tspan class="b">.</tspan></text>
<text class="bt sf i" x="1564" y="2221" textLength="124" lengthAdjust="spacingAndGlyphs">D ← ∅</text>
<text class="bt" x="1564" y="2276" textLength="526" lengthAdjust="spacingAndGlyphs"><tspan class="b">for</tspan> each environment step <tspan class="b">do</tspan></text>
<text class="bt" x="1626" y="2330" textLength="842" lengthAdjust="spacingAndGlyphs">With probability <tspan class="sf i">ε</tspan>, <tspan class="sf"><tspan class="i">j</tspan> ← arg max</tspan><tspan class="sf i" font-size="24" dy="8">i</tspan><tspan class="sf i" dy="-8"> L</tspan><tspan class="sf">(</tspan><tspan class="sf i">θ</tspan><tspan class="sf i" font-size="24" dy="8">i</tspan><tspan class="sf" dy="-8">; </tspan><tspan class="sf i">D</tspan><tspan class="sf" font-size="26" dy="8">heldout</tspan><tspan class="sf" dy="-8">).</tspan></text>
<text class="bt" x="1626" y="2384" textLength="482" lengthAdjust="spacingAndGlyphs">Otherwise, <tspan class="sf"><tspan class="i">j</tspan> ← Unif({<tspan class="i">K</tspan>})</tspan></text>
<text class="bt" x="1626" y="2438" textLength="1085" lengthAdjust="spacingAndGlyphs">Sample action <tspan class="sf i">a</tspan> from <tspan class="sf i">π</tspan><tspan class="sf i" font-size="24" dy="8">θ</tspan><tspan class="sf i" font-size="24" dy="-18">j</tspan><tspan dy="10"> and use it to act in the environment</tspan></text>
<text class="bt" x="1626" y="2492" textLength="1162" lengthAdjust="spacingAndGlyphs">Add the new transition in the replay buffer: <tspan class="sf"><tspan class="i">D</tspan> ← <tspan class="i">D</tspan> ∪ {(<tspan class="i">s</tspan>, <tspan class="i">a</tspan>, <tspan class="i">s′</tspan>, <tspan class="i">r</tspan>}</tspan></text>
<text class="bt" x="1626" y="2547" textLength="314" lengthAdjust="spacingAndGlyphs"><tspan class="b">for</tspan> <tspan class="sf"><tspan class="i">i</tspan> = 1 ··· <tspan class="i">k</tspan></tspan> <tspan class="b">do</tspan></text>
<text class="bt" x="1690" y="2601" textLength="776" lengthAdjust="spacingAndGlyphs">Update <tspan class="sf i">Q</tspan><tspan class="sf i" font-size="24" dy="8">θ</tspan><tspan class="sf i" font-size="24" dy="-18">i</tspan><tspan dy="10"> and </tspan><tspan class="sf i">π</tspan><tspan class="sf i" font-size="24" dy="8">θ</tspan><tspan class="sf i" font-size="24" dy="-18">i</tspan><tspan dy="10"> using the replay buffer </tspan><tspan class="sf i">D</tspan></text>
<text class="bt b" x="1626" y="2653" textLength="140" lengthAdjust="spacingAndGlyphs">end for</text>
<text class="bt" x="1626" y="2706" textLength="1163" lengthAdjust="spacingAndGlyphs">After every <tspan class="sf i">n</tspan><tspan class="sf" font-size="26" dy="8">episode</tspan><tspan dy="-8"> episodes, collect a heldout trajectory and add to</tspan></text>
<text class="bt" x="1564" y="2760" textLength="1065" lengthAdjust="spacingAndGlyphs"><tspan class="sf i">D</tspan><tspan class="sf" font-size="26" dy="8">heldout</tspan><tspan dy="-8"> with the same action selection strategy above for </tspan><tspan class="sf i">D</tspan>.</text>
<text class="bt b" x="1564" y="2815" textLength="139" lengthAdjust="spacingAndGlyphs">end for</text>

<!-- ===== RIGHT COLUMN ===== -->
<rect x="2881" y="481" width="1391" height="2380" rx="8" fill="#fff"/>
<rect x="2881" y="481" width="1391" height="91" rx="8" class="hd"/>
<rect x="2881" y="531" width="1391" height="41" class="hd"/>
<text class="ht" x="2919" y="540" textLength="402" lengthAdjust="spacingAndGlyphs">Empirical results</text>
<text class="db" font-size="44" x="2926" y="629" textLength="1292" lengthAdjust="spacingAndGlyphs">Is AVTD able to select the best regularization strength online?</text>
<line x1="2926" y1="644" x2="4218" y2="644" stroke="#0b3c7d" stroke-width="3"/>
<rect x="3110" y="664" width="936" height="110" rx="6" class="leg"/>
<line x1="3120" y1="693" x2="3194" y2="693" stroke="#0173b2" stroke-width="8"/>
<text font-size="36" x="3220" y="705" textLength="78" lengthAdjust="spacingAndGlyphs">Ours</text>
<line x1="3365" y1="693" x2="3438" y2="693" stroke="#029e73" stroke-width="3"/>
<text font-size="36" x="3465" y="705" textLength="210" lengthAdjust="spacingAndGlyphs">DroQ=0.003</text>
<line x1="3745" y1="693" x2="3816" y2="693" stroke="#cc78bc" stroke-width="3"/>
<text font-size="36" x="3842" y="705" textLength="190" lengthAdjust="spacingAndGlyphs">DroQ=0.03</text>
<line x1="3120" y1="743" x2="3194" y2="743" stroke="#de8f05" stroke-width="3"/>
<text font-size="36" x="3220" y="755" textLength="42" lengthAdjust="spacingAndGlyphs">LN</text>
<line x1="3365" y1="743" x2="3438" y2="743" stroke="#d55e00" stroke-width="3"/>
<text font-size="36" x="3465" y="755" textLength="190" lengthAdjust="spacingAndGlyphs">DroQ=0.01</text>
<line x1="3745" y1="743" x2="3816" y2="743" stroke="#949494" stroke-width="3"/>
<text font-size="36" x="3842" y="755" textLength="168" lengthAdjust="spacingAndGlyphs">DroQ=0.1</text>
<g class="tk36">
<text x="3438" y="810" text-anchor="middle" textLength="227" lengthAdjust="spacingAndGlyphs">Humanoid-v4</text>
<text x="3851" y="810" text-anchor="middle" textLength="174" lengthAdjust="spacingAndGlyphs">Hopper-v4</text>
<text x="3438" y="1078" text-anchor="middle" textLength="211" lengthAdjust="spacingAndGlyphs">Walker2d-v4</text>
<text x="3851" y="1078" text-anchor="middle" textLength="110" lengthAdjust="spacingAndGlyphs">Ant-v4</text>
</g>
<rect x="3272" y="825" width="333" height="182" class="fr"/>
<line x1="3272" y1="856" x2="3605" y2="856" class="gr"/><line x1="3383" y1="825" x2="3383" y2="1007" class="gr"/><line x1="3494" y1="825" x2="3494" y2="1007" class="gr"/>
<svg x="3272" y="825" width="333" height="182" viewBox="0 0 100 100" preserveAspectRatio="none">
<polyline class="c2" points="7,94 20,88 33,86 40,86 47,80 53,75 60,62 67,65 73,55 80,40 90,30 100,22"/>
<polyline class="c1" points="7,94 20,88 33,85 40,80 47,78 53,72 60,72 67,65 73,57 80,45 90,40 100,28"/>
<polyline class="c3" points="7,92 20,85 33,73 40,70 47,62 53,68 60,55 67,45 73,40 80,30 90,35 100,30"/>
<polyline class="c4" points="7,92 17,80 27,55 33,50 40,52 47,50 53,45 60,35 67,20 80,28 90,22 100,18"/>
<polyline class="c7" points="7,92 20,72 27,58 33,52 40,55 47,48 53,40 60,30 67,18 73,30 80,25 90,20 100,28"/>
<polyline class="c0 w7" points="7,92 20,80 27,68 33,72 40,58 47,64 53,50 60,46 67,44 73,35 80,34 87,20 93,22 100,25"/>
</svg>
<path d="M3272,825 V1007 H3605" class="sp"/>
<text class="tk36" x="3262" y="868" text-anchor="end">5000</text><text class="tk36" x="3262" y="1019" text-anchor="end">0</text>
<rect x="3684" y="825" width="334" height="182" class="fr"/>
<line x1="3684" y1="856" x2="4018" y2="856" class="gr"/><line x1="3795" y1="825" x2="3795" y2="1007" class="gr"/><line x1="3906" y1="825" x2="3906" y2="1007" class="gr"/>
<svg x="3684" y="825" width="334" height="182" viewBox="0 0 100 100" preserveAspectRatio="none">
<polyline class="c7" points="7,92 13,91 20,90 30,82 40,80 47,85 53,76 60,75 70,73 80,72 87,78 93,75 100,75"/>
<polyline class="c4" points="7,90 13,80 20,78 30,68 40,67 50,64 60,64 70,63 80,65 90,62 100,67"/>
<polyline class="c2" points="7,88 13,60 20,60 30,58 35,68 40,62 50,68 60,62 70,60 80,62 100,60"/>
<polyline class="c3" points="7,90 13,72 20,65 30,60 40,60 50,58 60,57 70,60 80,58 100,57"/>
<polyline class="c1" points="7,90 13,62 20,58 30,57 40,55 50,55 60,55 70,58 80,58 90,57 100,57"/>
<polyline class="c0 w7" points="7,82 13,68 20,68 27,65 33,53 40,54 50,55 60,55 70,60 80,57 90,56 100,55"/>
</svg>
<path d="M3684,825 V1007 H4018" class="sp"/>
<rect x="3272" y="1093" width="333" height="180" class="fr"/>
<line x1="3272" y1="1124" x2="3605" y2="1124" class="gr"/><line x1="3383" y1="1093" x2="3383" y2="1273" class="gr"/><line x1="3494" y1="1093" x2="3494" y2="1273" class="gr"/>
<svg x="3272" y="1093" width="333" height="180" viewBox="0 0 100 100" preserveAspectRatio="none">
<polyline class="c7" points="7,94 20,78 27,60 40,56 53,54 60,55 70,54 80,53 90,52 100,53"/>
<polyline class="c4" points="7,94 20,76 27,60 40,55 53,54 60,52 70,50 80,48 90,49 100,48"/>
<polyline class="c1" points="7,96 20,78 27,65 33,63 40,52 47,58 53,50 60,57 67,50 80,47 90,46 100,44"/>
<polyline class="c2" points="7,94 20,75 27,60 33,62 40,57 47,62 53,54 60,52 70,50 80,47 90,47 100,44"/>
<polyline class="c3" points="7,94 20,78 27,60 33,55 40,58 47,53 53,54 60,52 70,50 80,48 90,50 100,47"/>
<polyline class="c0 w7" points="7,94 13,85 20,80 27,60 33,59 40,56 47,54 53,52 60,50 67,49 73,48 80,48 87,47 93,47 100,49"/>
</svg>
<path d="M3272,1093 V1273 H3605" class="sp"/>
<text class="tk36" x="3262" y="1136" text-anchor="end">5000</text><text class="tk36" x="3262" y="1285" text-anchor="end">0</text>
<rect x="3684" y="1093" width="334" height="180" class="fr"/>
<line x1="3684" y1="1124" x2="4018" y2="1124" class="gr"/><line x1="3795" y1="1093" x2="3795" y2="1273" class="gr"/><line x1="3906" y1="1093" x2="3906" y2="1273" class="gr"/>
<svg x="3684" y="1093" width="334" height="180" viewBox="0 0 100 100" preserveAspectRatio="none">
<polyline class="c7" points="7,84 20,78 27,68 33,66 40,60 47,54 53,54 60,47 67,42 80,42 90,43 100,38"/>
<polyline class="c1" points="7,94 20,88 27,82 33,76 40,68 47,60 53,52 60,45 67,38 80,32 90,27 100,24"/>
<polyline class="c2" points="7,92 20,82 27,78 33,72 40,62 47,54 53,48 60,43 67,38 80,30 90,26 100,22"/>
<polyline class="c3" points="7,90 20,85 27,72 33,62 40,52 47,45 53,42 60,40 67,34 80,28 90,25 100,21"/>
<polyline class="c4" points="7,88 20,74 27,62 33,55 40,47 47,40 53,35 60,28 67,25 80,20 90,18 100,18"/>
<polyline class="c0 w7" points="7,97 13,85 20,68 27,58 33,52 40,48 47,42 53,38 60,38 67,35 73,30 80,29 87,29 93,28 100,28"/>
</svg>
<path d="M3684,1093 V1273 H4018" class="sp"/>
<g class="tk36">
<text x="3272" y="1313" text-anchor="middle">0.0</text><text x="3383" y="1313" text-anchor="middle">0.1</text><text x="3494" y="1313" text-anchor="middle">0.2</text><text x="3605" y="1313" text-anchor="middle">0.3</text>
<text x="3684" y="1313" text-anchor="middle">0.0</text><text x="3795" y="1313" text-anchor="middle">0.1</text><text x="3906" y="1313" text-anchor="middle">0.2</text><text x="4018" y="1313" text-anchor="middle">0.3</text>
</g>
<text class="b" font-size="38" transform="translate(3133,1088) rotate(-90)" text-anchor="middle" textLength="131" lengthAdjust="spacingAndGlyphs">Return</text>
<text font-size="38" x="3330" y="1398" textLength="496" lengthAdjust="spacingAndGlyphs"><tspan class="b">Environment Steps</tspan> (×10⁶)</text>

<text class="db" font-size="44" x="2949" y="1480" textLength="1255" lengthAdjust="spacingAndGlyphs">Can AVTD match the performance of individual regularizers?</text>
<line x1="2949" y1="1494" x2="4204" y2="1494" stroke="#0b3c7d" stroke-width="3"/>
<rect x="3098" y="1506" width="937" height="79" rx="6" class="leg"/>
<line x1="3108" y1="1527" x2="3160" y2="1527" stroke="#111" stroke-width="4" stroke-dasharray="12,7"/>
<text font-size="28" x="3177" y="1537" textLength="79" lengthAdjust="spacingAndGlyphs">Oracle</text>
<line x1="3302" y1="1527" x2="3355" y2="1527" stroke="#ee854a" stroke-width="6"/>
<text font-size="28" x="3373" y="1537" textLength="74" lengthAdjust="spacingAndGlyphs">Q-gap</text>
<line x1="3584" y1="1527" x2="3637" y2="1527" stroke="#d65f5f" stroke-width="3"/>
<text font-size="28" x="3654" y="1537" textLength="69" lengthAdjust="spacingAndGlyphs">Reset</text>
<line x1="3818" y1="1527" x2="3871" y2="1527" stroke="#8c613c" stroke-width="3"/>
<text font-size="28" x="3888" y="1537" textLength="138" lengthAdjust="spacingAndGlyphs">DroQ=0.03</text>
<line x1="3108" y1="1562" x2="3160" y2="1562" stroke="#4878d0" stroke-width="6"/>
<text font-size="28" x="3177" y="1572" textLength="79" lengthAdjust="spacingAndGlyphs">Ours</text>
<line x1="3302" y1="1562" x2="3355" y2="1562" stroke="#6acc64" stroke-width="3"/>
<text font-size="28" x="3373" y="1572" textLength="163" lengthAdjust="spacingAndGlyphs">SAC (UTD=1)</text>
<line x1="3584" y1="1562" x2="3637" y2="1562" stroke="#956cb4" stroke-width="3"/>
<text font-size="28" x="3654" y="1572" textLength="117" lengthAdjust="spacingAndGlyphs">WD=0.01</text>
<g class="tk26">
<text x="3121" y="1628" text-anchor="middle" textLength="71" lengthAdjust="spacingAndGlyphs">Ant-v4</text>
<text x="3368" y="1628" text-anchor="middle" textLength="136" lengthAdjust="spacingAndGlyphs">Walker2d-v4</text>
<text x="3614" y="1628" text-anchor="middle" textLength="112" lengthAdjust="spacingAndGlyphs">Hopper-v4</text>
<text x="3860" y="1628" text-anchor="middle" textLength="145" lengthAdjust="spacingAndGlyphs">Humanoid-v4</text>
<text class="b" x="4108" y="1602" text-anchor="middle" textLength="144" lengthAdjust="spacingAndGlyphs">Aggregated</text>
<text class="b" x="4108" y="1626" text-anchor="middle" textLength="216" lengthAdjust="spacingAndGlyphs">Normalized Score</text>
<text x="3121" y="1859" text-anchor="middle" textLength="133" lengthAdjust="spacingAndGlyphs">cheetah-run</text>
<text x="3368" y="1859" text-anchor="middle" textLength="182" lengthAdjust="spacingAndGlyphs">acrobot-swingup</text>
<text x="3614" y="1859" text-anchor="middle" textLength="124" lengthAdjust="spacingAndGlyphs">hopper-hop</text>
<text x="3860" y="1859" text-anchor="middle" textLength="145" lengthAdjust="spacingAndGlyphs">hopper-stand</text>
<text x="3121" y="2090" text-anchor="middle" textLength="177" lengthAdjust="spacingAndGlyphs">humanoid-stand</text>
<text x="3368" y="2090" text-anchor="middle" textLength="153" lengthAdjust="spacingAndGlyphs">humanoid-run</text>
<text x="3614" y="2090" text-anchor="middle" textLength="103" lengthAdjust="spacingAndGlyphs">fish-swim</text>
<text x="3860" y="2090" text-anchor="middle" textLength="163" lengthAdjust="spacingAndGlyphs">quadruped-run</text>
<text x="4108" y="2090" text-anchor="middle" textLength="175" lengthAdjust="spacingAndGlyphs">finger-turn_hard</text>
</g>
<g>
<rect x="3034" y="1634" width="174" height="167" class="fr"/><rect x="3281" y="1634" width="174" height="167" class="fr"/><rect x="3528" y="1634" width="173" height="167" class="fr"/><rect x="3775" y="1634" width="173" height="167" class="fr"/>
<rect x="3034" y="1867" width="174" height="165" class="fr"/><rect x="3281" y="1867" width="174" height="165" class="fr"/><rect x="3528" y="1867" width="173" height="165" class="fr"/><rect x="3775" y="1867" width="173" height="165" class="fr"/>
<rect x="3034" y="2099" width="174" height="166" class="fr"/><rect x="3281" y="2099" width="174" height="166" class="fr"/><rect x="3528" y="2099" width="173" height="166" class="fr"/><rect x="3775" y="2099" width="173" height="166" class="fr"/><rect x="4022" y="2099" width="173" height="166" class="fr"/>
<rect x="4022" y="1634" width="173" height="398" class="fr"/>
</g>
<g class="gr">
<line x1="3034" y1="1691" x2="3208" y2="1691"/><line x1="3034" y1="1746" x2="3208" y2="1746"/><line x1="3150" y1="1634" x2="3150" y2="1801"/>
<line x1="3281" y1="1691" x2="3455" y2="1691"/><line x1="3281" y1="1746" x2="3455" y2="1746"/><line x1="3397" y1="1634" x2="3397" y2="1801"/>
<line x1="3528" y1="1691" x2="3701" y2="1691"/><line x1="3528" y1="1746" x2="3701" y2="1746"/><line x1="3643" y1="1634" x2="3643" y2="1801"/>
<line x1="3775" y1="1691" x2="3948" y2="1691"/><line x1="3775" y1="1746" x2="3948" y2="1746"/><line x1="3890" y1="1634" x2="3890" y2="1801"/>
<line x1="3034" y1="1950" x2="3208" y2="1950"/><line x1="3121" y1="1867" x2="3121" y2="2032"/>
<line x1="3281" y1="1950" x2="3455" y2="1950"/><line x1="3368" y1="1867" x2="3368" y2="2032"/>
<line x1="3528" y1="1950" x2="3701" y2="1950"/><line x1="3614" y1="1867" x2="3614" y2="2032"/>
<line x1="3775" y1="1950" x2="3948" y2="1950"/><line x1="3861" y1="1867" x2="3861" y2="2032"/>
<line x1="3034" y1="2182" x2="3208" y2="2182"/><line x1="3121" y1="2099" x2="3121" y2="2265"/>
<line x1="3281" y1="2182" x2="3455" y2="2182"/><line x1="3368" y1="2099" x2="3368" y2="2265"/>
<line x1="3528" y1="2182" x2="3701" y2="2182"/><line x1="3614" y1="2099" x2="3614" y2="2265"/>
<line x1="3775" y1="2182" x2="3948" y2="2182"/><line x1="3861" y1="2099" x2="3861" y2="2265"/>
<line x1="4022" y1="2182" x2="4195" y2="2182"/><line x1="4108" y1="2099" x2="4108" y2="2265"/>
<line x1="4022" y1="1648" x2="4195" y2="1648"/><line x1="4022" y1="1724" x2="4195" y2="1724"/><line x1="4022" y1="1800" x2="4195" y2="1800"/><line x1="4022" y1="1876" x2="4195" y2="1876"/><line x1="4022" y1="1951" x2="4195" y2="1951"/><line x1="4080" y1="1634" x2="4080" y2="2032"/><line x1="4137" y1="1634" x2="4137" y2="2032"/>
</g>
<svg x="3034" y="1634" width="174" height="167" viewBox="0 0 100 100" preserveAspectRatio="none">
<polyline class="m2" points="5,90 15,88 25,86 35,83 45,80 55,77 65,72 75,68 85,63 95,57 100,53"/>
<polyline class="m4" points="5,95 15,92 25,85 35,72 45,58 55,45 65,35 75,28 85,25 95,27 100,18"/>
<polyline class="m5" points="5,88 15,70 25,48 35,35 45,20 55,12 65,10 75,7 90,6 100,5"/>
<polyline class="m3" points="5,88 15,72 25,50 35,32 50,22 60,15 70,12 80,10 90,8 100,7"/>
<polyline class="m1 w5" points="5,88 15,72 25,52 35,35 50,25 60,22 70,18 80,15 90,12 100,10"/>
<polyline class="m0 w5" points="5,98 15,85 25,72 30,55 40,35 50,28 60,25 70,22 80,20 90,18 95,22 100,33"/>
</svg>
<svg x="3281" y="1634" width="174" height="167" viewBox="0 0 100 100" preserveAspectRatio="none">
<polyline class="m2" points="5,92 15,92 25,93 35,92 45,90 55,88 65,85 75,80 85,70 100,60"/>
<polyline class="m4" points="5,97 15,90 25,72 35,55 45,42 55,35 65,30 80,25 90,22 100,28"/>
<polyline class="m5" points="5,97 15,82 25,55 35,42 45,38 55,33 65,30 75,30 85,28 100,28"/>
<polyline class="m3" points="5,97 15,85 25,55 35,45 45,40 55,32 65,30 80,28 100,26"/>
<polyline class="m1 w5" points="5,97 15,85 25,55 35,45 45,40 55,38 65,33 75,35 85,32 100,28"/>
<polyline class="m0 w5" points="5,97 10,95 15,85 20,65 25,50 35,45 45,40 55,33 65,30 75,30 85,25 90,32 100,27"/>
</svg>
<svg x="3528" y="1634" width="173" height="167" viewBox="0 0 100 100" preserveAspectRatio="none">
<polyline class="m2" points="5,90 10,88 20,78 30,68 40,63 50,62 60,60 70,60 80,62 100,62"/>
<polyline class="m5" points="5,85 10,78 20,70 30,65 40,62 50,62 60,60 70,60 80,60 100,60"/>
<polyline class="m4" points="5,80 10,68 20,55 30,52 40,50 50,50 60,48 70,45 80,48 100,55"/>
<polyline class="m3" points="5,82 10,65 20,52 30,47 40,45 50,45 60,45 70,44 80,45 100,43"/>
<polyline class="m1 w5" points="5,82 10,75 20,70 30,66 40,65 50,63 60,62 70,62 80,60 100,60"/>
<polyline class="m0 w5" points="5,72 10,70 20,62 30,60 40,58 50,57 60,52 70,48 80,55 90,48 100,48"/>
</svg>
<svg x="3775" y="1634" width="173" height="167" viewBox="0 0 100 100" preserveAspectRatio="none">
<polyline class="m2" points="5,94 20,92 35,90 45,82 55,78 65,70 75,60 85,52 90,45 100,32"/>
<polyline class="m4" points="5,94 20,90 35,88 45,80 55,75 65,65 75,55 85,45 90,38 100,45"/>
<polyline class="m5" points="5,92 10,88 20,78 30,55 40,45 50,42 60,15 70,35 80,28 90,23 100,20"/>
<polyline class="m3" points="5,94 20,90 30,88 40,70 50,40 55,18 60,20 70,35 80,15 90,5 100,5"/>
<polyline class="m1 w5" points="5,94 20,93 35,92 45,91 55,89 65,87 75,83 85,78 90,74 100,68"/>
<polyline class="m0 w5" points="5,94 20,88 30,80 40,60 45,37 55,40 60,42 70,35 80,38 90,25 100,18"/>
</svg>
<svg x="3034" y="1867" width="174" height="165" viewBox="0 0 100 100" preserveAspectRatio="none">
<polyline class="m5" points="2,75 5,65 10,60 20,50 30,45 40,43 50,42 60,41 70,40 80,38 90,37 100,36"/>
<polyline class="m2" points="2,97 5,70 10,45 20,30 30,22 40,18 60,16 80,15 100,15"/>
<polyline class="m4" points="2,85 5,70 10,50 15,40 20,25 30,18 40,17 50,16 60,15 70,14 80,13 90,13 100,12"/>
<polyline class="m3" points="2,82 5,65 10,45 20,25 30,20 40,18 50,16 60,15 70,14 80,14 90,15 100,14"/>
<polyline class="m1 w5" points="2,75 5,65 10,55 20,45 30,40 40,37 50,35 60,33 70,32 80,31 90,30 100,29"/>
<polyline class="m0 w5" points="2,70 5,62 10,45 20,30 30,24 40,22 50,20 60,20 70,18 75,23 80,15 90,18 95,25 100,15"/>
</svg>
<svg x="3281" y="1867" width="174" height="165" viewBox="0 0 100 100" preserveAspectRatio="none">
<polyline class="m2" points="2,99 30,99 60,99 100,99"/>
<polyline class="m5" points="2,99 20,97 40,97 60,97 80,97 100,97"/>
<polyline class="m1 w5" points="2,99 20,98 40,99 60,98 80,98 100,98"/>
<polyline class="m3" points="2,98 10,96 20,94 30,95 40,93 50,94 60,92 70,94 80,93 90,93 100,92"/>
<polyline class="m4" points="2,98 10,94 20,90 30,91 40,89 50,90 60,88 70,90 80,89 90,87 95,84 100,90"/>
<polyline class="m0 w5" points="2,99 20,99 40,98.5 60,99 80,99 100,99"/>
</svg>
<svg x="3528" y="1867" width="173" height="165" viewBox="0 0 100 100" preserveAspectRatio="none">
<polyline class="m2" points="2,100 20,97 40,95 60,93 80,91 100,89"/>
<polyline class="m5" points="2,100 10,95 20,92 30,90 50,89 70,87 100,86"/>
<polyline class="m4" points="2,100 10,90 20,83 30,80 50,78 70,77 100,76"/>
<polyline class="m3" points="2,100 10,88 20,80 30,77 40,76 60,75 80,74 100,72"/>
<polyline class="m1 w5" points="2,100 10,93 20,90 30,88 40,90 50,87 60,88 70,86 80,87 100,86"/>
<polyline class="m0 w5" points="2,100 10,88 20,81 30,78 40,77 60,76 80,76 100,75"/>
</svg>
<svg x="3775" y="1867" width="173" height="165" viewBox="0 0 100 100" preserveAspectRatio="none">
<polyline class="m5" points="2,100 5,90 10,76 20,80 30,75 40,70 50,78 55,68 60,80 70,74 80,82 90,75 100,78"/>
<polyline class="m2" points="2,100 5,95 10,70 20,55 30,45 40,35 50,40 60,30 70,35 80,28 90,33 100,38"/>
<polyline class="m4" points="2,100 5,60 10,30 20,20 30,18 40,20 50,17 60,20 70,18 80,17 90,20 100,15"/>
<polyline class="m3" points="2,97 5,55 10,35 20,25 30,22 40,20 50,22 60,18 70,20 80,18 90,22 100,18"/>
<polyline class="m1 w5" points="2,90 5,75 10,45 20,30 30,30 40,28 50,25 60,27 70,25 80,28 90,25 100,22"/>
<polyline class="m0 w5" points="2,100 5,65 10,35 20,25 30,23 40,20 50,20 60,22 70,18 80,20 90,17 100,20"/>
</svg>
<svg x="3034" y="2099" width="174" height="166" viewBox="0 0 100 100" preserveAspectRatio="none">
<polyline class="m2" points="2,100 10,100 20,90 30,75 40,70 50,62 60,55 70,52 80,45 90,40 100,32"/>
<polyline class="m3" points="2,100 10,100 20,85 30,70 40,58 50,42 60,45 70,35 80,30 100,25"/>
<polyline class="m4" points="2,100 10,92 20,75 30,55 40,40 50,30 60,25 70,30 80,25 100,20"/>
<polyline class="m5" points="2,100 10,90 20,72 30,50 40,35 50,25 60,20 70,17 80,13 90,12 100,10"/>
<polyline class="m1 w5" points="2,100 10,90 20,70 30,48 40,30 50,20 60,18 70,22 80,25 90,28 100,30"/>
<polyline class="m0 w5" points="2,100 10,90 20,62 25,58 30,50 40,42 50,28 60,30 70,25 80,25 90,30 100,28"/>
</svg>
<svg x="3281" y="2099" width="174" height="166" viewBox="0 0 100 100" preserveAspectRatio="none">
<polyline class="m3" points="2,100 20,98 40,95 60,94 80,92 100,92"/>
<polyline class="m4" points="2,100 20,96 40,92 60,90 80,88 100,87"/>
<polyline class="m2" points="2,100 20,97 40,94 60,90 70,88 80,89 90,87 100,87"/>
<polyline class="m5" points="2,100 10,96 20,93 30,90 40,88 50,86 60,85 70,84 80,83 100,83"/>
<polyline class="m1 w5" points="2,100 10,98 20,97 30,98 50,98 70,98 90,97 100,98"/>
<polyline class="m0 w5" points="2,100 10,96 20,92 30,88 40,86 50,84 60,83 70,82 80,81 90,80 100,79"/>
</svg>
<svg x="3528" y="2099" width="173" height="166" viewBox="0 0 100 100" preserveAspectRatio="none">
<polyline class="m5" points="2,92 10,92 20,90 30,91 40,92 50,90 60,89 70,88 80,90 90,88 100,86"/>
<polyline class="m2" points="2,92 10,92 20,90 30,88 40,86 50,84 60,82 70,80 80,78 90,74 100,72"/>
<polyline class="m3" points="2,91 10,90 20,88 30,85 40,80 50,72 60,68 70,58 80,63 90,58 100,55"/>
<polyline class="m4" points="2,91 10,88 20,85 30,78 40,72 50,60 60,55 70,45 80,48 90,48 100,46"/>
<polyline class="m1 w5" points="2,92 10,90 20,88 30,87 40,88 50,83 60,80 70,75 80,78 90,70 100,70"/>
<polyline class="m0 w5" points="2,91 10,90 20,82 30,75 40,70 50,62 60,52 70,46 80,48 90,47 95,42 100,50"/>
</svg>
<svg x="3775" y="2099" width="173" height="166" viewBox="0 0 100 100" preserveAspectRatio="none">
<polyline class="m2" points="2,95 10,90 20,70 30,50 40,35 50,25 60,20 80,15 100,12"/>
<polyline class="m5" points="2,95 5,70 10,40 20,35 30,32 40,30 60,28 80,26 100,25"/>
<polyline class="m3" points="2,92 5,85 10,75 15,55 20,35 30,25 40,20 60,16 80,14 100,12"/>
<polyline class="m4" points="2,90 5,60 10,38 20,25 30,20 40,18 60,15 80,14 100,13"/>
<polyline class="m1 w5" points="2,95 5,90 10,55 15,40 25,33 40,28 60,24 80,22 100,20"/>
<polyline class="m0 w5" points="2,88 5,50 10,30 20,20 30,18 40,16 60,14 80,12 100,12"/>
</svg>
<svg x="4022" y="2099" width="173" height="166" viewBox="0 0 100 100" preserveAspectRatio="none">
<polyline class="m2" points="2,93 5,88 10,80 20,65 30,52 40,40 50,30 60,28 70,20 80,18 100,15"/>
<polyline class="m5" points="2,88 5,75 10,60 20,40 30,25 40,22 60,15 80,12 100,10"/>
<polyline class="m3" points="2,80 5,55 10,35 20,22 40,14 60,12 80,10 100,9"/>
<polyline class="m4" points="2,80 5,50 10,33 20,20 30,16 40,12 60,10 80,8 100,8"/>
<polyline class="m1 w5" points="2,85 5,55 10,35 20,20 30,15 40,12 60,10 80,9 100,8"/>
<polyline class="m0 w5" points="2,75 5,45 10,30 20,18 30,15 40,13 50,12 60,10 70,8 80,10 90,9 100,8"/>
</svg>
<svg x="4022" y="1634" width="173" height="398" viewBox="0 0 100 100" preserveAspectRatio="none">
<polygon points="5,92 15,76 25,50 30,42 40,35 50,27 55,20 70,13 85,8 100,5 100,13 85,16 70,22 55,30 50,37 40,45 30,52 25,60 15,84 5,94" fill="#999" fill-opacity="0.25"/>
<polyline class="m2" points="5,97 15,93 25,91 35,87 45,82 55,75 65,70 75,65 85,60 100,58"/>
<polyline class="m5" points="5,93 15,83 25,72 35,65 45,60 55,55 65,50 75,44 85,38 100,33"/>
<polyline class="m3" points="5,94 15,85 25,72 35,62 45,55 55,50 60,58 65,50 75,40 85,30 95,20 100,16"/>
<polyline class="m4" points="5,93 15,83 25,65 35,50 45,40 55,35 65,26 70,30 80,20 90,18 100,14"/>
<polyline class="m1 w5" points="5,94 15,86 25,75 35,70 45,65 55,60 65,53 75,47 85,40 100,36"/>
<polyline class="m0 w5" points="5,93 15,82 25,60 35,45 45,35 55,25 70,20 85,16 100,12"/>
<polyline points="5,93 15,80 25,55 30,47 40,40 50,32 55,25 70,18 85,12 100,9" style="stroke:#111;stroke-width:4;stroke-dasharray:12,8"/>
</svg>
<g>
<path d="M3034,1634 V1801 H3208" class="sp"/><path d="M3281,1634 V1801 H3455" class="sp"/><path d="M3528,1634 V1801 H3701" class="sp"/><path d="M3775,1634 V1801 H3948" class="sp"/>
<path d="M3034,1867 V2032 H3208" class="sp"/><path d="M3281,1867 V2032 H3455" class="sp"/><path d="M3528,1867 V2032 H3701" class="sp"/><path d="M3775,1867 V2032 H3948" class="sp"/>
<path d="M3034,2099 V2265 H3208" class="sp"/><path d="M3281,2099 V2265 H3455" class="sp"/><path d="M3528,2099 V2265 H3701" class="sp"/><path d="M3775,2099 V2265 H3948" class="sp"/><path d="M4022,2099 V2265 H4195" class="sp"/>
<path d="M4022,1634 V2032 H4195" class="sp"/>
</g>
<g class="tk26">
<text x="3026" y="1643" text-anchor="end">6000</text><text x="3026" y="1700" text-anchor="end">4000</text><text x="3026" y="1755" text-anchor="end">2000</text><text x="3026" y="1810" text-anchor="end">0</text>
<text x="3026" y="1876" text-anchor="end">1000</text><text x="3026" y="1959" text-anchor="end">500</text><text x="3026" y="2041" text-anchor="end">0</text>
<text x="3026" y="2108" text-anchor="end">1000</text><text x="3026" y="2191" text-anchor="end">500</text><text x="3026" y="2274" text-anchor="end">0</text>
<text x="4014" y="1657" text-anchor="end">1.0</text><text x="4014" y="1733" text-anchor="end">0.8</text><text x="4014" y="1809" text-anchor="end">0.6</text><text x="4014" y="1885" text-anchor="end">0.4</text><text x="4014" y="1960" text-anchor="end">0.2</text><text x="4014" y="2035" text-anchor="end">0.0</text>
<text x="3034" y="1829" text-anchor="middle">0.0</text><text x="3150" y="1829" text-anchor="middle">0.2</text>
<text x="3281" y="1829" text-anchor="middle">0.0</text><text x="3397" y="1829" text-anchor="middle">0.2</text>
<text x="3528" y="1829" text-anchor="middle">0.0</text><text x="3643" y="1829" text-anchor="middle">0.2</text>
<text x="3775" y="1829" text-anchor="middle">0.0</text><text x="3890" y="1829" text-anchor="middle">0.2</text>
<text x="4022" y="2061" text-anchor="middle">0.0</text><text x="4137" y="2061" text-anchor="middle">0.2</text>
<text x="3034" y="2061" text-anchor="middle">0.0</text><text x="3121" y="2061" text-anchor="middle">0.5</text><text x="3208" y="2061" text-anchor="middle">1.0</text>
<text x="3281" y="2061" text-anchor="middle">0.0</text><text x="3368" y="2061" text-anchor="middle">0.5</text><text x="3455" y="2061" text-anchor="middle">1.0</text>
<text x="3528" y="2061" text-anchor="middle">0.0</text><text x="3614" y="2061" text-anchor="middle">0.5</text><text x="3701" y="2061" text-anchor="middle">1.0</text>
<text x="3775" y="2061" text-anchor="middle">0.0</text><text x="3861" y="2061" text-anchor="middle">0.5</text><text x="3948" y="2061" text-anchor="middle">1.0</text>
<text x="3034" y="2293" text-anchor="middle">0.0</text><text x="3121" y="2293" text-anchor="middle">0.5</text><text x="3208" y="2293" text-anchor="middle">1.0</text>
<text x="3281" y="2293" text-anchor="middle">0.0</text><text x="3368" y="2293" text-anchor="middle">0.5</text><text x="3455" y="2293" text-anchor="middle">1.0</text>
<text x="3528" y="2293" text-anchor="middle">0.0</text><text x="3614" y="2293" text-anchor="middle">0.5</text><text x="3701" y="2293" text-anchor="middle">1.0</text>
<text x="3775" y="2293" text-anchor="middle">0.0</text><text x="3861" y="2293" text-anchor="middle">0.5</text><text x="3948" y="2293" text-anchor="middle">1.0</text>
<text x="4022" y="2293" text-anchor="middle">0.0</text><text x="4108" y="2293" text-anchor="middle">0.5</text><text x="4195" y="2293" text-anchor="middle">1.0</text>
</g>
<text class="b" font-size="44" transform="translate(2964,1966) rotate(-90)" text-anchor="middle" textLength="138" lengthAdjust="spacingAndGlyphs">Return</text>
<text font-size="44" x="3302" y="2343" textLength="528" lengthAdjust="spacingAndGlyphs"><tspan class="b">Environment Steps</tspan> (×10⁶)</text>
<text class="bt" x="2952" y="2417" textLength="1248" lengthAdjust="spacingAndGlyphs"><tspan class="b">Oracle:</tspan> the best performance that an online model selection approach</text>
<text class="bt" x="2949" y="2470" textLength="1256" lengthAdjust="spacingAndGlyphs">could have achieved if the selection were perfect (the best regularizer is</text>
<text class="bt" x="3388" y="2522" textLength="382" lengthAdjust="spacingAndGlyphs">selected in hindsight).</text>
<rect x="2893" y="2565" width="1366" height="265" rx="4" fill="#eef0f2" stroke="#4a6486" stroke-width="2.5"/>
<text class="bt" x="2924" y="2626" textLength="1304" lengthAdjust="spacingAndGlyphs"><tspan class="b db">Takeaway 3:</tspan> Our online model selection approach using validation TD error</text>
<text class="bt" x="2924" y="2681" textLength="1304" lengthAdjust="spacingAndGlyphs">(AVTD) is effective among different regularizers with varying regularization</text>
<text class="bt" x="2924" y="2735" textLength="1304" lengthAdjust="spacingAndGlyphs">strength.  AVTD often matches the top performing regularization, achieving</text>
<text class="bt" x="2924" y="2789" textLength="1152" lengthAdjust="spacingAndGlyphs">an overall better performance compared to individual regularizers.</text>
</svg>
</body></html>
